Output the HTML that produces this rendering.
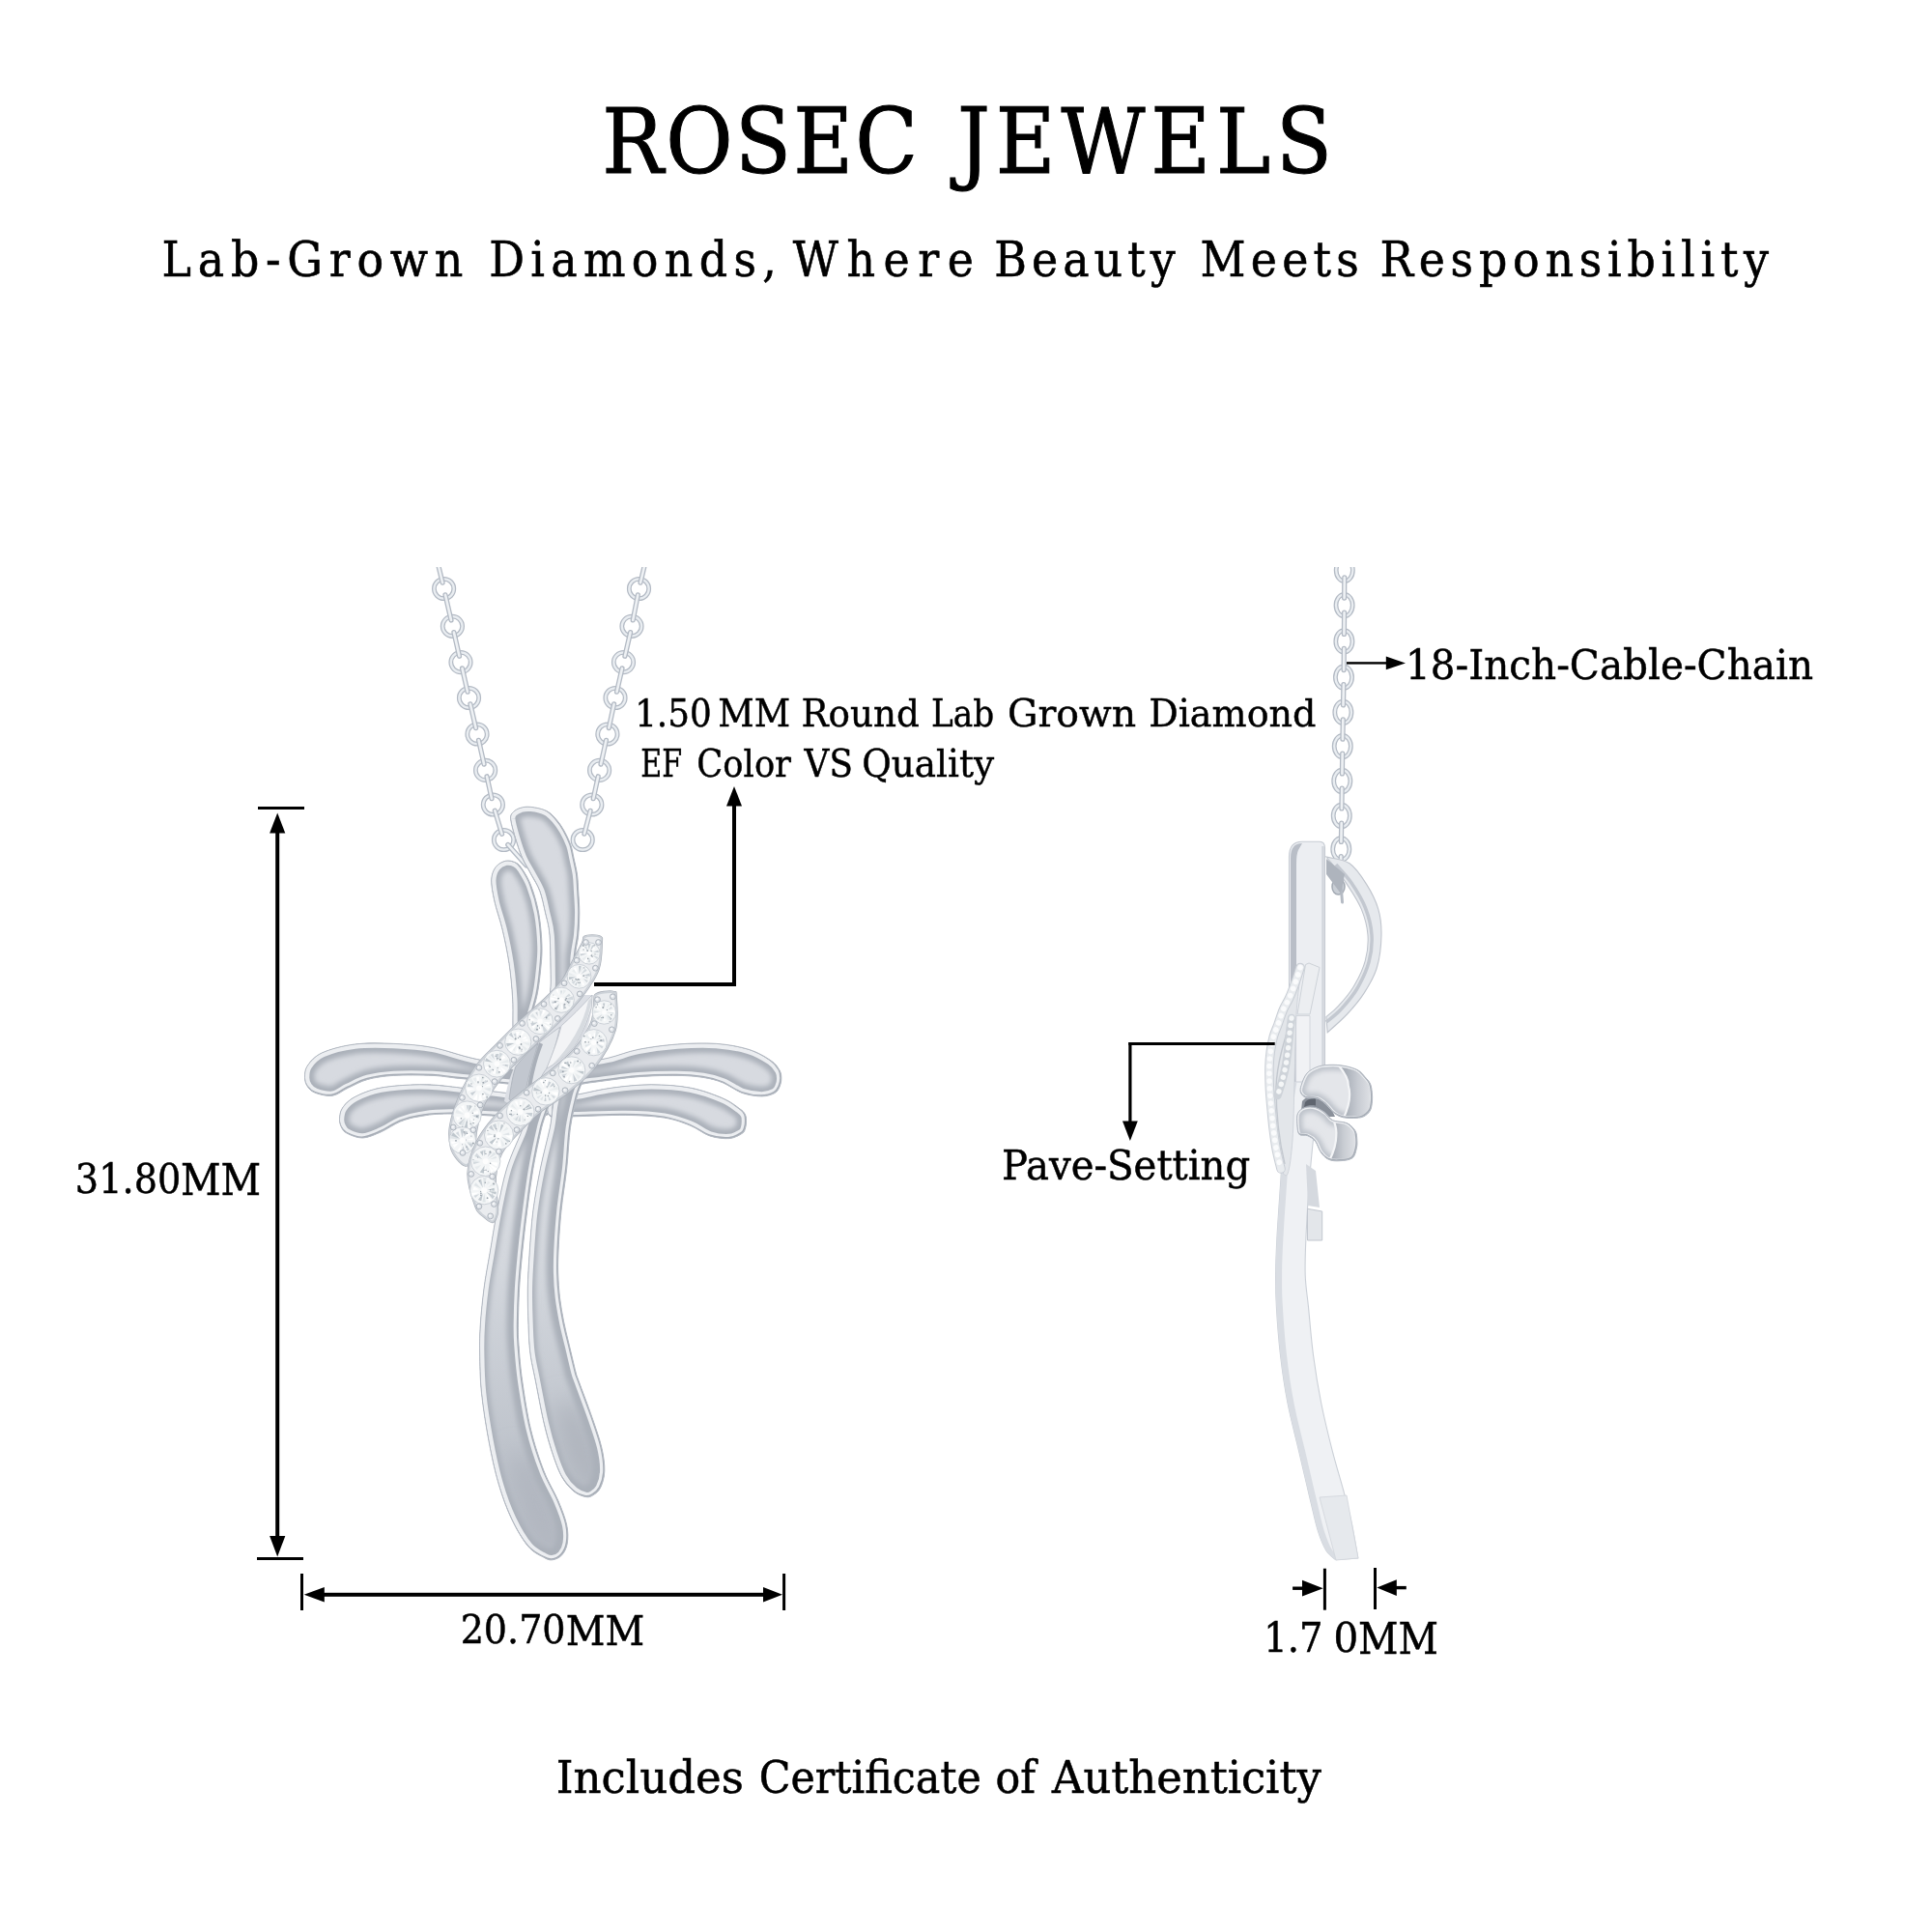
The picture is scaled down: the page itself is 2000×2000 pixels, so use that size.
<!DOCTYPE html>
<html lang="en"><head><meta charset="utf-8"><title>Rosec Jewels - Cross Pendant Specifications</title>
<style>
html,body{margin:0;padding:0;background:#fff;}
body{width:2000px;height:2000px;overflow:hidden;position:relative;}
svg{position:absolute;left:0;top:0;display:block;}
text{font-family:"DejaVu Serif Condensed", "DejaVu Serif", "Liberation Serif", serif;font-stretch:condensed;fill:#000;}
</style></head><body>
<svg width="2000" height="2000" viewBox="0 0 2000 2000">
<rect width="2000" height="2000" fill="#fff"/>
<!--JEWEL-->
<defs><filter id="b1" x="-20%" y="-20%" width="140%" height="140%"><feGaussianBlur stdDeviation="1"/></filter><filter id="b2" x="-20%" y="-20%" width="140%" height="140%"><feGaussianBlur stdDeviation="2"/></filter><filter id="b25" x="-20%" y="-20%" width="140%" height="140%"><feGaussianBlur stdDeviation="2.5"/></filter><filter id="b3" x="-20%" y="-20%" width="140%" height="140%"><feGaussianBlur stdDeviation="3"/></filter><filter id="b05" x="-20%" y="-20%" width="140%" height="140%"><feGaussianBlur stdDeviation="0.6"/></filter><filter id="b9" filterUnits="userSpaceOnUse" x="380" y="1100" width="360" height="620"><feGaussianBlur stdDeviation="12"/></filter><linearGradient id="gLow" gradientUnits="userSpaceOnUse" x1="0" y1="1150" x2="0" y2="1615"><stop offset="0" stop-color="#dcdfe4"/><stop offset="0.35" stop-color="#d3d7dd"/><stop offset="0.75" stop-color="#bfc4cc"/><stop offset="1" stop-color="#b9bec7"/></linearGradient><linearGradient id="gWallU" gradientUnits="userSpaceOnUse" x1="1392" y1="0" x2="1421" y2="0"><stop offset="0" stop-color="#a7adb6"/><stop offset="0.45" stop-color="#c6cad1"/><stop offset="1" stop-color="#e2e4e8"/></linearGradient><linearGradient id="gWallL" gradientUnits="userSpaceOnUse" x1="1380" y1="0" x2="1405" y2="0"><stop offset="0" stop-color="#abb0b9"/><stop offset="0.45" stop-color="#c9cdd3"/><stop offset="1" stop-color="#e2e4e8"/></linearGradient><filter id="b6" x="-50%" y="-50%" width="200%" height="200%"><feGaussianBlur stdDeviation="6"/></filter><clipPath id="cropTop"><rect x="0" y="587" width="2000" height="1413"/></clipPath><clipPath id="c_armUL"><path d="M560.0,1108.0C549.0,1103.4 512.5,1100.4 493.8,1096.5C475.1,1092.6 462.4,1087.1 448.0,1084.4C433.6,1081.7 421.1,1081.0 407.7,1080.4C394.2,1079.8 379.6,1079.4 367.3,1081.0C355.0,1082.6 341.7,1086.1 333.6,1089.8C325.5,1093.5 321.5,1098.7 318.5,1103.0C315.5,1107.3 315.5,1111.7 315.5,1115.4C315.5,1119.1 316.6,1122.3 318.5,1125.0C320.4,1127.7 322.6,1130.0 326.9,1131.5C331.2,1133.0 338.8,1135.1 344.4,1134.2C350.0,1133.3 354.5,1128.9 360.6,1126.1C366.7,1123.3 373.0,1119.5 380.8,1117.4C388.6,1115.3 396.5,1114.1 407.7,1113.4C418.9,1112.7 436.1,1112.9 448.0,1113.4C459.9,1114.0 460.3,1114.9 479.0,1116.7C497.7,1118.5 546.5,1125.5 560.0,1124.0C573.5,1122.5 571.0,1112.6 560.0,1108.0Z"/></clipPath><clipPath id="c_armLL"><path d="M560.0,1138.0C545.4,1132.9 493.2,1128.0 472.3,1125.5C451.4,1123.0 447.6,1122.7 434.6,1122.8C421.6,1122.9 405.4,1124.0 394.2,1126.1C383.0,1128.2 373.9,1132.1 367.3,1135.6C360.7,1139.1 357.1,1143.2 354.5,1147.0C351.9,1150.8 351.7,1155.1 351.5,1158.4C351.3,1161.7 352.2,1164.5 353.5,1167.0C354.8,1169.5 355.6,1171.4 359.2,1173.2C362.8,1175.0 369.6,1178.2 375.4,1178.0C381.2,1177.8 387.7,1174.7 394.2,1171.9C400.7,1169.1 407.7,1163.8 414.4,1161.1C421.1,1158.4 425.9,1157.0 434.6,1155.7C443.4,1154.4 446.0,1153.0 466.9,1153.0C487.8,1153.0 544.5,1158.5 560.0,1156.0C575.5,1153.5 574.6,1143.1 560.0,1138.0Z"/></clipPath><clipPath id="c_armUR"><path d="M590.0,1104.0C596.6,1099.4 618.0,1098.1 629.8,1095.2C641.6,1092.3 648.9,1088.8 660.8,1086.4C672.7,1084.0 687.6,1082.0 701.1,1081.0C714.6,1080.0 729.1,1079.5 741.5,1080.4C753.9,1081.3 765.8,1083.5 775.2,1086.4C784.6,1089.3 792.7,1094.3 798.0,1097.9C803.3,1101.5 805.2,1104.9 807.0,1108.0C808.8,1111.1 808.8,1113.9 808.8,1116.7C808.8,1119.5 808.1,1122.5 807.0,1125.0C805.9,1127.5 805.1,1129.8 802.0,1131.5C798.9,1133.2 794.2,1134.9 788.6,1134.9C783.0,1134.9 775.1,1133.8 768.4,1131.5C761.7,1129.2 754.9,1123.5 748.2,1120.8C741.5,1118.1 735.9,1116.6 728.0,1115.4C720.1,1114.2 712.3,1113.5 701.1,1113.4C689.9,1113.3 675.8,1113.5 660.8,1114.7C645.8,1115.9 622.8,1119.4 611.0,1120.8C599.2,1122.2 593.5,1125.8 590.0,1123.0C586.5,1120.2 583.4,1108.6 590.0,1104.0Z"/></clipPath><clipPath id="c_armLR"><path d="M570.0,1138.0C574.8,1134.2 588.2,1134.9 598.8,1132.9C609.4,1130.9 621.2,1127.8 633.8,1126.1C646.4,1124.4 660.7,1122.8 674.2,1122.8C687.7,1122.8 702.3,1123.8 714.6,1126.1C726.9,1128.4 739.7,1133.3 748.2,1136.9C756.7,1140.5 761.8,1144.9 765.7,1147.7C769.6,1150.5 770.4,1151.8 771.5,1154.0C772.6,1156.2 772.5,1158.8 772.5,1161.1C772.5,1163.4 772.2,1166.0 771.5,1168.0C770.8,1170.0 771.1,1171.4 768.4,1173.2C765.6,1175.0 760.6,1178.1 755.0,1178.6C749.4,1179.0 741.5,1178.1 734.8,1175.9C728.1,1173.7 722.5,1168.3 714.6,1165.2C706.8,1162.1 698.9,1158.9 687.7,1157.1C676.5,1155.3 662.5,1154.6 647.3,1154.4C632.0,1154.2 609.1,1155.4 596.2,1155.7C583.3,1156.0 574.4,1159.0 570.0,1156.0C565.6,1153.0 565.2,1141.8 570.0,1138.0Z"/></clipPath><clipPath id="c_ribTR"><path d="M571.0,1040.0C567.4,1035.6 570.5,1025.6 570.2,1013.6C569.9,1001.6 570.0,979.4 569.0,968.0C568.0,956.6 566.2,952.6 564.5,945.0C562.8,937.4 561.3,929.2 558.8,922.5C556.3,915.8 552.7,910.7 549.7,905.0C546.7,899.3 543.4,894.8 540.6,888.3C537.8,881.8 535.0,872.8 533.0,866.0C531.0,859.2 528.9,851.5 528.6,847.3C528.4,843.0 529.8,842.3 531.5,840.5C533.2,838.7 536.0,837.1 539.0,836.3C542.0,835.4 545.2,834.9 549.7,835.4C554.2,835.9 561.3,837.2 565.7,839.4C570.1,841.6 573.0,845.1 576.0,848.5C579.0,851.9 581.4,855.5 583.9,859.9C586.4,864.3 589.1,870.0 590.8,874.7C592.5,879.4 592.9,883.2 594.0,888.3C595.1,893.4 596.7,899.7 597.5,905.4C598.3,911.1 598.3,915.9 598.7,922.5C599.1,929.1 599.8,937.4 599.8,945.0C599.8,952.6 599.5,960.4 598.7,968.0C598.0,975.6 596.4,978.8 595.3,990.8C594.2,1002.8 596.0,1031.8 592.0,1040.0C588.0,1048.2 574.6,1044.4 571.0,1040.0Z"/></clipPath><clipPath id="c_ribTL"><path d="M532.0,1075.0C530.0,1067.8 531.5,1047.5 530.7,1034.5C529.9,1021.5 528.8,1009.3 527.0,997.3C525.2,985.3 522.6,973.0 520.1,962.4C517.6,951.8 514.0,942.5 512.1,933.9C510.2,925.3 508.5,917.1 508.7,911.0C508.9,904.9 510.8,900.7 513.3,897.4C515.8,894.1 520.1,892.0 523.5,891.2C526.9,890.5 530.9,891.5 533.8,892.9C536.6,894.3 538.0,895.7 540.6,899.7C543.2,903.7 546.9,909.2 549.7,916.8C552.6,924.4 555.8,934.8 557.7,945.3C559.6,955.8 560.7,969.5 561.0,979.5C561.3,989.5 560.3,996.6 559.5,1005.0C558.7,1013.4 557.6,1022.2 556.0,1030.0C554.4,1037.8 552.2,1044.0 550.0,1052.0C547.8,1060.0 546.0,1074.2 543.0,1078.0C540.0,1081.8 534.0,1082.2 532.0,1075.0Z"/></clipPath><clipPath id="c_ribLL"><path d="M548.0,1150.0C543.2,1155.4 543.4,1162.5 539.5,1172.4C535.6,1182.4 528.7,1196.2 524.6,1209.7C520.5,1223.2 517.6,1238.7 514.7,1253.2C511.8,1267.7 509.5,1283.1 507.2,1296.6C504.9,1310.0 502.6,1321.5 501.0,1333.9C499.4,1346.3 498.0,1360.2 497.3,1371.2C496.6,1382.2 496.4,1388.2 496.6,1400.0C496.8,1411.8 496.9,1426.8 498.5,1442.1C500.1,1457.4 503.1,1476.3 506.0,1491.8C508.9,1507.3 512.0,1521.8 515.9,1535.3C519.8,1548.8 524.4,1561.5 529.6,1572.5C534.8,1583.5 541.4,1594.5 547.0,1601.1C552.6,1607.7 559.0,1610.0 563.1,1612.3C567.2,1614.6 568.7,1615.2 571.8,1614.8C574.9,1614.4 579.1,1612.7 581.7,1609.8C584.3,1606.9 586.5,1602.6 587.3,1597.4C588.1,1592.2 588.2,1586.0 586.7,1578.8C585.2,1571.5 581.9,1563.2 578.0,1553.9C574.1,1544.6 567.9,1535.3 563.1,1522.9C558.3,1510.5 553.1,1494.9 549.4,1479.4C545.7,1463.9 542.8,1444.2 540.7,1429.7C538.6,1415.2 537.7,1402.2 537.0,1392.4C536.3,1382.7 536.3,1381.0 536.4,1371.2C536.5,1361.5 536.9,1346.3 537.6,1333.9C538.3,1321.5 539.4,1310.0 540.7,1296.6C542.1,1283.1 543.8,1267.7 545.7,1253.2C547.6,1238.7 549.4,1224.0 551.9,1209.7C554.4,1195.4 557.9,1179.1 560.6,1167.5C563.3,1155.9 570.1,1142.9 568.0,1140.0C565.9,1137.1 552.8,1144.6 548.0,1150.0Z"/></clipPath><clipPath id="c_ribLR"><path d="M577.0,1130.0C571.2,1139.2 572.2,1154.2 569.3,1167.5C566.4,1180.8 562.3,1195.4 559.4,1209.7C556.5,1224.0 553.8,1238.7 551.9,1253.2C550.0,1267.7 549.1,1283.1 548.2,1296.6C547.3,1310.0 546.5,1321.5 546.3,1333.9C546.1,1346.3 546.6,1360.2 547.0,1371.2C547.4,1382.2 547.6,1390.2 548.8,1400.0C550.0,1409.8 552.0,1417.5 554.4,1429.7C556.8,1441.9 560.2,1460.8 563.1,1473.2C566.0,1485.6 568.7,1494.9 571.8,1504.2C574.9,1513.5 578.0,1522.4 581.7,1529.0C585.4,1535.6 590.1,1540.6 594.2,1544.0C598.4,1547.4 603.3,1549.0 606.6,1549.6C609.9,1550.2 611.5,1549.3 614.0,1547.7C616.5,1546.1 619.5,1544.3 621.5,1540.2C623.5,1536.1 625.6,1529.9 625.8,1522.9C626.0,1515.9 624.9,1507.3 622.7,1498.0C620.5,1488.7 616.7,1478.4 612.8,1467.0C608.9,1455.6 601.9,1437.5 599.1,1429.7C596.3,1421.9 597.5,1426.2 595.9,1420.0C594.3,1413.8 591.4,1401.2 589.3,1392.5C587.2,1383.8 585.1,1376.0 583.5,1367.7C581.9,1359.4 580.4,1351.1 579.4,1342.8C578.4,1334.5 577.9,1326.3 577.7,1318.0C577.5,1309.7 577.6,1303.9 578.1,1293.1C578.6,1282.3 579.6,1267.1 581.0,1253.2C582.4,1239.3 585.1,1224.0 586.7,1209.7C588.3,1195.4 588.6,1180.1 590.4,1167.5C592.2,1154.9 595.2,1143.5 597.5,1134.2C599.8,1125.0 607.4,1112.7 604.0,1112.0C600.6,1111.3 582.8,1120.8 577.0,1130.0Z"/></clipPath><clipPath id="c_bandA"><path d="M604.5,969.5C606.2,968.2 610.1,967.8 613.0,967.8C615.9,967.8 620.3,968.2 622.0,969.5C623.7,970.8 623.6,969.8 623.3,975.5C623.0,981.2 623.2,994.4 619.9,1003.7C616.6,1012.9 610.0,1022.1 603.3,1031.1C596.7,1040.0 587.6,1049.3 579.9,1057.1C572.3,1065.0 565.0,1071.2 557.4,1078.3C549.9,1085.5 541.6,1092.7 534.5,1100.0C527.4,1107.3 520.5,1114.6 514.8,1122.1C509.2,1129.7 504.2,1137.3 500.6,1145.3C497.1,1153.3 495.1,1162.7 493.7,1170.2C492.2,1177.6 492.9,1184.5 492.0,1190.0C491.1,1195.5 489.7,1200.2 488.0,1203.0C486.3,1205.8 484.5,1207.5 482.0,1207.0C479.5,1206.5 475.6,1203.2 473.0,1200.0C470.4,1196.8 467.8,1193.6 466.5,1188.0C465.2,1182.4 464.0,1175.3 465.4,1166.5C466.8,1157.7 470.4,1145.6 475.0,1135.0C479.6,1124.4 486.4,1112.0 493.1,1102.8C499.7,1093.6 507.5,1087.4 515.0,1079.7C522.5,1072.0 530.5,1063.7 538.1,1056.6C545.6,1049.4 553.2,1043.6 560.4,1036.8C567.5,1029.9 575.4,1023.0 581.0,1015.6C586.5,1008.3 590.0,999.4 593.6,992.7C597.2,986.1 600.9,979.4 602.7,975.5C604.5,971.6 602.8,970.8 604.5,969.5Z"/></clipPath><clipPath id="c_bandB"><path d="M616.0,1029.5C617.7,1028.0 621.8,1027.0 625.0,1026.5C628.2,1026.0 633.3,1025.7 635.5,1026.5C637.7,1027.3 637.9,1024.4 638.1,1031.1C638.4,1037.9 640.8,1054.6 637.0,1067.0C633.2,1079.5 623.7,1095.0 615.4,1105.8C607.1,1116.6 596.6,1124.2 587.2,1131.8C577.8,1139.4 567.5,1144.6 559.3,1151.3C551.1,1158.0 544.5,1165.0 537.9,1172.0C531.3,1179.1 524.0,1185.8 519.9,1193.5C515.8,1201.3 514.2,1209.6 513.4,1218.3C512.6,1227.1 514.9,1239.5 515.2,1245.9C515.4,1252.4 515.9,1253.7 515.0,1257.0C514.1,1260.3 512.3,1265.0 510.0,1265.5C507.7,1266.0 504.0,1262.7 501.0,1260.0C498.0,1257.3 495.0,1257.0 492.1,1249.5C489.3,1242.0 483.8,1226.3 484.0,1215.0C484.2,1203.7 488.2,1192.2 493.3,1181.8C498.4,1171.4 506.4,1161.5 514.7,1152.6C523.0,1143.6 533.8,1135.5 543.0,1128.1C552.3,1120.6 561.5,1114.9 570.1,1107.8C578.7,1100.7 587.5,1093.9 594.5,1085.7C601.4,1077.4 608.3,1066.7 611.7,1058.4C615.1,1050.0 614.0,1040.2 614.8,1035.4C615.5,1030.6 614.3,1031.0 616.0,1029.5Z"/></clipPath><clipPath id="c_bulbU"><path d="M1347.1,1123.5C1348.2,1120.2 1350.0,1114.3 1353.0,1111.0C1356.0,1107.7 1360.7,1105.4 1365.2,1103.9C1369.7,1102.5 1375.2,1102.3 1380.0,1102.3C1384.8,1102.3 1389.9,1103.0 1394.2,1103.9C1398.5,1104.9 1402.9,1106.2 1406.0,1108.0C1409.1,1109.8 1410.9,1112.5 1413.0,1114.8C1415.1,1117.1 1417.3,1119.3 1418.5,1122.0C1419.7,1124.7 1420.0,1127.7 1420.3,1130.7C1420.6,1133.7 1420.8,1137.0 1420.5,1140.0C1420.2,1143.0 1419.8,1146.5 1418.8,1148.8C1417.8,1151.1 1416.2,1152.7 1414.5,1154.0C1412.8,1155.3 1411.3,1156.2 1408.7,1156.8C1406.1,1157.4 1402.0,1157.5 1399.0,1157.5C1396.0,1157.5 1393.0,1157.3 1390.6,1156.8C1388.2,1156.3 1386.3,1155.5 1384.5,1154.5C1382.7,1153.5 1381.7,1152.9 1379.7,1151.0C1377.7,1149.1 1375.2,1145.3 1372.5,1143.0C1369.8,1140.7 1367.2,1138.3 1363.8,1137.2C1360.4,1136.1 1355.1,1137.6 1352.2,1136.5C1349.3,1135.4 1347.2,1132.9 1346.4,1130.7C1345.6,1128.5 1346.0,1126.8 1347.1,1123.5Z"/></clipPath><clipPath id="c_bulbL"><path d="M1343.5,1152.5C1344.8,1149.7 1347.6,1147.7 1350.7,1146.7C1353.8,1145.7 1358.7,1145.7 1362.3,1146.7C1365.9,1147.7 1369.6,1150.3 1372.5,1152.5C1375.4,1154.7 1376.1,1158.0 1379.7,1159.7C1383.3,1161.4 1390.3,1160.8 1394.2,1162.6C1398.1,1164.4 1401.1,1167.7 1402.9,1170.6C1404.7,1173.5 1404.6,1177.0 1404.8,1180.0C1405.0,1183.0 1405.1,1185.6 1404.3,1188.7C1403.5,1191.8 1402.9,1196.6 1400.0,1198.8C1397.1,1201.0 1391.1,1201.5 1387.0,1201.7C1382.9,1202.0 1378.7,1201.8 1375.4,1200.3C1372.1,1198.8 1369.7,1196.2 1367.4,1193.0C1365.1,1189.8 1363.9,1184.3 1361.6,1181.4C1359.3,1178.5 1356.4,1176.9 1353.6,1175.7C1350.8,1174.5 1346.7,1176.3 1344.9,1174.2C1343.1,1172.1 1343.0,1166.9 1342.8,1163.3C1342.6,1159.7 1342.2,1155.3 1343.5,1152.5Z"/></clipPath></defs>
<g id="frontchain" clip-path="url(#cropTop)">
<ellipse cx="459.6" cy="609.5" rx="10.2" ry="10.2" fill="none" stroke="#b3bac4" stroke-width="4.8"/><ellipse cx="459.6" cy="609.5" rx="10.2" ry="10.2" fill="none" stroke="#e9edf1" stroke-width="2.3"/>
<ellipse cx="468.4" cy="648.3" rx="10.2" ry="10.2" fill="none" stroke="#b3bac4" stroke-width="4.8"/><ellipse cx="468.4" cy="648.3" rx="10.2" ry="10.2" fill="none" stroke="#e9edf1" stroke-width="2.3"/>
<ellipse cx="477.0" cy="685.6" rx="10.2" ry="10.2" fill="none" stroke="#b3bac4" stroke-width="4.8"/><ellipse cx="477.0" cy="685.6" rx="10.2" ry="10.2" fill="none" stroke="#e9edf1" stroke-width="2.3"/>
<ellipse cx="485.5" cy="722.5" rx="10.2" ry="10.2" fill="none" stroke="#b3bac4" stroke-width="4.8"/><ellipse cx="485.5" cy="722.5" rx="10.2" ry="10.2" fill="none" stroke="#e9edf1" stroke-width="2.3"/>
<ellipse cx="494.0" cy="760.0" rx="10.2" ry="10.2" fill="none" stroke="#b3bac4" stroke-width="4.8"/><ellipse cx="494.0" cy="760.0" rx="10.2" ry="10.2" fill="none" stroke="#e9edf1" stroke-width="2.3"/>
<ellipse cx="502.6" cy="797.4" rx="10.2" ry="10.2" fill="none" stroke="#b3bac4" stroke-width="4.8"/><ellipse cx="502.6" cy="797.4" rx="10.2" ry="10.2" fill="none" stroke="#e9edf1" stroke-width="2.3"/>
<ellipse cx="510.4" cy="833.0" rx="10.2" ry="10.2" fill="none" stroke="#b3bac4" stroke-width="4.8"/><ellipse cx="510.4" cy="833.0" rx="10.2" ry="10.2" fill="none" stroke="#e9edf1" stroke-width="2.3"/>
<ellipse cx="521.5" cy="869.5" rx="10.2" ry="10.2" fill="none" stroke="#b3bac4" stroke-width="4.8"/><ellipse cx="521.5" cy="869.5" rx="10.2" ry="10.2" fill="none" stroke="#e9edf1" stroke-width="2.3"/>
<line x1="461.0" y1="615.8" x2="467.0" y2="642.0" stroke="#b3bac4" stroke-width="5.2" stroke-linecap="round"/><line x1="461.0" y1="615.8" x2="467.0" y2="642.0" stroke="#eef1f4" stroke-width="2.6" stroke-linecap="round"/>
<line x1="469.9" y1="654.6" x2="475.5" y2="679.3" stroke="#b3bac4" stroke-width="5.2" stroke-linecap="round"/><line x1="469.9" y1="654.6" x2="475.5" y2="679.3" stroke="#eef1f4" stroke-width="2.6" stroke-linecap="round"/>
<line x1="478.5" y1="691.9" x2="484.0" y2="716.2" stroke="#b3bac4" stroke-width="5.2" stroke-linecap="round"/><line x1="478.5" y1="691.9" x2="484.0" y2="716.2" stroke="#eef1f4" stroke-width="2.6" stroke-linecap="round"/>
<line x1="486.9" y1="728.8" x2="492.6" y2="753.7" stroke="#b3bac4" stroke-width="5.2" stroke-linecap="round"/><line x1="486.9" y1="728.8" x2="492.6" y2="753.7" stroke="#eef1f4" stroke-width="2.6" stroke-linecap="round"/>
<line x1="495.5" y1="766.3" x2="501.1" y2="791.1" stroke="#b3bac4" stroke-width="5.2" stroke-linecap="round"/><line x1="495.5" y1="766.3" x2="501.1" y2="791.1" stroke="#eef1f4" stroke-width="2.6" stroke-linecap="round"/>
<line x1="504.0" y1="803.7" x2="509.0" y2="826.7" stroke="#b3bac4" stroke-width="5.2" stroke-linecap="round"/><line x1="504.0" y1="803.7" x2="509.0" y2="826.7" stroke="#eef1f4" stroke-width="2.6" stroke-linecap="round"/>
<line x1="512.3" y1="839.2" x2="519.6" y2="863.3" stroke="#b3bac4" stroke-width="5.2" stroke-linecap="round"/><line x1="512.3" y1="839.2" x2="519.6" y2="863.3" stroke="#eef1f4" stroke-width="2.6" stroke-linecap="round"/>
<line x1="452.0" y1="578.0" x2="458.1" y2="603.2" stroke="#b3bac4" stroke-width="5.2" stroke-linecap="round"/><line x1="452.0" y1="578.0" x2="458.1" y2="603.2" stroke="#eef1f4" stroke-width="2.6" stroke-linecap="round"/>
<line x1="525.8" y1="874.4" x2="545.0" y2="896.0" stroke="#b3bac4" stroke-width="5.2" stroke-linecap="round"/><line x1="525.8" y1="874.4" x2="545.0" y2="896.0" stroke="#eef1f4" stroke-width="2.6" stroke-linecap="round"/>
<ellipse cx="661.5" cy="609.5" rx="10.2" ry="10.2" fill="none" stroke="#b3bac4" stroke-width="4.8"/><ellipse cx="661.5" cy="609.5" rx="10.2" ry="10.2" fill="none" stroke="#e9edf1" stroke-width="2.3"/>
<ellipse cx="654.0" cy="648.3" rx="10.2" ry="10.2" fill="none" stroke="#b3bac4" stroke-width="4.8"/><ellipse cx="654.0" cy="648.3" rx="10.2" ry="10.2" fill="none" stroke="#e9edf1" stroke-width="2.3"/>
<ellipse cx="645.5" cy="685.6" rx="10.2" ry="10.2" fill="none" stroke="#b3bac4" stroke-width="4.8"/><ellipse cx="645.5" cy="685.6" rx="10.2" ry="10.2" fill="none" stroke="#e9edf1" stroke-width="2.3"/>
<ellipse cx="637.0" cy="722.5" rx="10.2" ry="10.2" fill="none" stroke="#b3bac4" stroke-width="4.8"/><ellipse cx="637.0" cy="722.5" rx="10.2" ry="10.2" fill="none" stroke="#e9edf1" stroke-width="2.3"/>
<ellipse cx="628.9" cy="760.0" rx="10.2" ry="10.2" fill="none" stroke="#b3bac4" stroke-width="4.8"/><ellipse cx="628.9" cy="760.0" rx="10.2" ry="10.2" fill="none" stroke="#e9edf1" stroke-width="2.3"/>
<ellipse cx="620.6" cy="797.4" rx="10.2" ry="10.2" fill="none" stroke="#b3bac4" stroke-width="4.8"/><ellipse cx="620.6" cy="797.4" rx="10.2" ry="10.2" fill="none" stroke="#e9edf1" stroke-width="2.3"/>
<ellipse cx="612.8" cy="833.0" rx="10.2" ry="10.2" fill="none" stroke="#b3bac4" stroke-width="4.8"/><ellipse cx="612.8" cy="833.0" rx="10.2" ry="10.2" fill="none" stroke="#e9edf1" stroke-width="2.3"/>
<ellipse cx="603.2" cy="869.5" rx="10.2" ry="10.2" fill="none" stroke="#b3bac4" stroke-width="4.8"/><ellipse cx="603.2" cy="869.5" rx="10.2" ry="10.2" fill="none" stroke="#e9edf1" stroke-width="2.3"/>
<line x1="660.3" y1="615.9" x2="655.2" y2="641.9" stroke="#b3bac4" stroke-width="5.2" stroke-linecap="round"/><line x1="660.3" y1="615.9" x2="655.2" y2="641.9" stroke="#eef1f4" stroke-width="2.6" stroke-linecap="round"/>
<line x1="652.6" y1="654.6" x2="646.9" y2="679.3" stroke="#b3bac4" stroke-width="5.2" stroke-linecap="round"/><line x1="652.6" y1="654.6" x2="646.9" y2="679.3" stroke="#eef1f4" stroke-width="2.6" stroke-linecap="round"/>
<line x1="644.0" y1="691.9" x2="638.5" y2="716.2" stroke="#b3bac4" stroke-width="5.2" stroke-linecap="round"/><line x1="644.0" y1="691.9" x2="638.5" y2="716.2" stroke="#eef1f4" stroke-width="2.6" stroke-linecap="round"/>
<line x1="635.6" y1="728.9" x2="630.3" y2="753.6" stroke="#b3bac4" stroke-width="5.2" stroke-linecap="round"/><line x1="635.6" y1="728.9" x2="630.3" y2="753.6" stroke="#eef1f4" stroke-width="2.6" stroke-linecap="round"/>
<line x1="627.5" y1="766.3" x2="622.0" y2="791.1" stroke="#b3bac4" stroke-width="5.2" stroke-linecap="round"/><line x1="627.5" y1="766.3" x2="622.0" y2="791.1" stroke="#eef1f4" stroke-width="2.6" stroke-linecap="round"/>
<line x1="619.2" y1="803.7" x2="614.2" y2="826.7" stroke="#b3bac4" stroke-width="5.2" stroke-linecap="round"/><line x1="619.2" y1="803.7" x2="614.2" y2="826.7" stroke="#eef1f4" stroke-width="2.6" stroke-linecap="round"/>
<line x1="611.1" y1="839.3" x2="604.9" y2="863.2" stroke="#b3bac4" stroke-width="5.2" stroke-linecap="round"/><line x1="611.1" y1="839.3" x2="604.9" y2="863.2" stroke="#eef1f4" stroke-width="2.6" stroke-linecap="round"/>
<line x1="669.0" y1="578.0" x2="663.0" y2="603.2" stroke="#b3bac4" stroke-width="5.2" stroke-linecap="round"/><line x1="669.0" y1="578.0" x2="663.0" y2="603.2" stroke="#eef1f4" stroke-width="2.6" stroke-linecap="round"/>
</g>
<g id="armUL">
<path d="M560.0,1108.0C549.0,1103.4 512.5,1100.4 493.8,1096.5C475.1,1092.6 462.4,1087.1 448.0,1084.4C433.6,1081.7 421.1,1081.0 407.7,1080.4C394.2,1079.8 379.6,1079.4 367.3,1081.0C355.0,1082.6 341.7,1086.1 333.6,1089.8C325.5,1093.5 321.5,1098.7 318.5,1103.0C315.5,1107.3 315.5,1111.7 315.5,1115.4C315.5,1119.1 316.6,1122.3 318.5,1125.0C320.4,1127.7 322.6,1130.0 326.9,1131.5C331.2,1133.0 338.8,1135.1 344.4,1134.2C350.0,1133.3 354.5,1128.9 360.6,1126.1C366.7,1123.3 373.0,1119.5 380.8,1117.4C388.6,1115.3 396.5,1114.1 407.7,1113.4C418.9,1112.7 436.1,1112.9 448.0,1113.4C459.9,1114.0 460.3,1114.9 479.0,1116.7C497.7,1118.5 546.5,1125.5 560.0,1124.0C573.5,1122.5 571.0,1112.6 560.0,1108.0Z" fill="#d7dae0"/>
<g clip-path="url(#c_armUL)">
<path d="M560.0,1108.0C549.0,1103.4 512.5,1100.4 493.8,1096.5C475.1,1092.6 462.4,1087.1 448.0,1084.4C433.6,1081.7 421.1,1081.0 407.7,1080.4C394.2,1079.8 379.6,1079.4 367.3,1081.0C355.0,1082.6 341.7,1086.1 333.6,1089.8C325.5,1093.5 321.5,1098.7 318.5,1103.0C315.5,1107.3 315.5,1111.7 315.5,1115.4C315.5,1119.1 316.6,1122.3 318.5,1125.0C320.4,1127.7 322.6,1130.0 326.9,1131.5C331.2,1133.0 338.8,1135.1 344.4,1134.2C350.0,1133.3 354.5,1128.9 360.6,1126.1C366.7,1123.3 373.0,1119.5 380.8,1117.4C388.6,1115.3 396.5,1114.1 407.7,1113.4C418.9,1112.7 436.1,1112.9 448.0,1113.4C459.9,1114.0 460.3,1114.9 479.0,1116.7C497.7,1118.5 546.5,1125.5 560.0,1124.0C573.5,1122.5 571.0,1112.6 560.0,1108.0Z" fill="none" stroke="#aab0b9" stroke-width="20" filter="url(#b25)" transform="translate(0,0)"/>

<path d="M560.0,1108.0C549.0,1103.4 512.5,1100.4 493.8,1096.5C475.1,1092.6 462.4,1087.1 448.0,1084.4C433.6,1081.7 421.1,1081.0 407.7,1080.4C394.2,1079.8 379.6,1079.4 367.3,1081.0C355.0,1082.6 341.7,1086.1 333.6,1089.8C325.5,1093.5 321.5,1098.7 318.5,1103.0C315.5,1107.3 315.5,1111.7 315.5,1115.4C315.5,1119.1 316.6,1122.3 318.5,1125.0C320.4,1127.7 322.6,1130.0 326.9,1131.5C331.2,1133.0 338.8,1135.1 344.4,1134.2C350.0,1133.3 354.5,1128.9 360.6,1126.1C366.7,1123.3 373.0,1119.5 380.8,1117.4C388.6,1115.3 396.5,1114.1 407.7,1113.4C418.9,1112.7 436.1,1112.9 448.0,1113.4C459.9,1114.0 460.3,1114.9 479.0,1116.7C497.7,1118.5 546.5,1125.5 560.0,1124.0C573.5,1122.5 571.0,1112.6 560.0,1108.0Z" fill="none" stroke="#eceef1" stroke-width="9.5" filter="url(#b05)"/>
<path d="M560.0,1108.0C549.0,1103.4 512.5,1100.4 493.8,1096.5C475.1,1092.6 462.4,1087.1 448.0,1084.4C433.6,1081.7 421.1,1081.0 407.7,1080.4C394.2,1079.8 379.6,1079.4 367.3,1081.0C355.0,1082.6 341.7,1086.1 333.6,1089.8C325.5,1093.5 321.5,1098.7 318.5,1103.0C315.5,1107.3 315.5,1111.7 315.5,1115.4C315.5,1119.1 316.6,1122.3 318.5,1125.0C320.4,1127.7 322.6,1130.0 326.9,1131.5C331.2,1133.0 338.8,1135.1 344.4,1134.2C350.0,1133.3 354.5,1128.9 360.6,1126.1C366.7,1123.3 373.0,1119.5 380.8,1117.4C388.6,1115.3 396.5,1114.1 407.7,1113.4C418.9,1112.7 436.1,1112.9 448.0,1113.4C459.9,1114.0 460.3,1114.9 479.0,1116.7C497.7,1118.5 546.5,1125.5 560.0,1124.0C573.5,1122.5 571.0,1112.6 560.0,1108.0Z" fill="none" stroke="#a6acb5" stroke-width="1.8" transform="translate(-0.7,-0.7)"/>
</g>
<path d="M560.0,1108.0C549.0,1103.4 512.5,1100.4 493.8,1096.5C475.1,1092.6 462.4,1087.1 448.0,1084.4C433.6,1081.7 421.1,1081.0 407.7,1080.4C394.2,1079.8 379.6,1079.4 367.3,1081.0C355.0,1082.6 341.7,1086.1 333.6,1089.8C325.5,1093.5 321.5,1098.7 318.5,1103.0C315.5,1107.3 315.5,1111.7 315.5,1115.4C315.5,1119.1 316.6,1122.3 318.5,1125.0C320.4,1127.7 322.6,1130.0 326.9,1131.5C331.2,1133.0 338.8,1135.1 344.4,1134.2C350.0,1133.3 354.5,1128.9 360.6,1126.1C366.7,1123.3 373.0,1119.5 380.8,1117.4C388.6,1115.3 396.5,1114.1 407.7,1113.4C418.9,1112.7 436.1,1112.9 448.0,1113.4C459.9,1114.0 460.3,1114.9 479.0,1116.7C497.7,1118.5 546.5,1125.5 560.0,1124.0C573.5,1122.5 571.0,1112.6 560.0,1108.0Z" fill="none" stroke="#b4bac3" stroke-width="1"/>
</g>
<g id="armLL">
<path d="M560.0,1138.0C545.4,1132.9 493.2,1128.0 472.3,1125.5C451.4,1123.0 447.6,1122.7 434.6,1122.8C421.6,1122.9 405.4,1124.0 394.2,1126.1C383.0,1128.2 373.9,1132.1 367.3,1135.6C360.7,1139.1 357.1,1143.2 354.5,1147.0C351.9,1150.8 351.7,1155.1 351.5,1158.4C351.3,1161.7 352.2,1164.5 353.5,1167.0C354.8,1169.5 355.6,1171.4 359.2,1173.2C362.8,1175.0 369.6,1178.2 375.4,1178.0C381.2,1177.8 387.7,1174.7 394.2,1171.9C400.7,1169.1 407.7,1163.8 414.4,1161.1C421.1,1158.4 425.9,1157.0 434.6,1155.7C443.4,1154.4 446.0,1153.0 466.9,1153.0C487.8,1153.0 544.5,1158.5 560.0,1156.0C575.5,1153.5 574.6,1143.1 560.0,1138.0Z" fill="#d7dae0"/>
<g clip-path="url(#c_armLL)">
<path d="M560.0,1138.0C545.4,1132.9 493.2,1128.0 472.3,1125.5C451.4,1123.0 447.6,1122.7 434.6,1122.8C421.6,1122.9 405.4,1124.0 394.2,1126.1C383.0,1128.2 373.9,1132.1 367.3,1135.6C360.7,1139.1 357.1,1143.2 354.5,1147.0C351.9,1150.8 351.7,1155.1 351.5,1158.4C351.3,1161.7 352.2,1164.5 353.5,1167.0C354.8,1169.5 355.6,1171.4 359.2,1173.2C362.8,1175.0 369.6,1178.2 375.4,1178.0C381.2,1177.8 387.7,1174.7 394.2,1171.9C400.7,1169.1 407.7,1163.8 414.4,1161.1C421.1,1158.4 425.9,1157.0 434.6,1155.7C443.4,1154.4 446.0,1153.0 466.9,1153.0C487.8,1153.0 544.5,1158.5 560.0,1156.0C575.5,1153.5 574.6,1143.1 560.0,1138.0Z" fill="none" stroke="#aab0b9" stroke-width="20" filter="url(#b25)" transform="translate(0,0)"/>

<path d="M560.0,1138.0C545.4,1132.9 493.2,1128.0 472.3,1125.5C451.4,1123.0 447.6,1122.7 434.6,1122.8C421.6,1122.9 405.4,1124.0 394.2,1126.1C383.0,1128.2 373.9,1132.1 367.3,1135.6C360.7,1139.1 357.1,1143.2 354.5,1147.0C351.9,1150.8 351.7,1155.1 351.5,1158.4C351.3,1161.7 352.2,1164.5 353.5,1167.0C354.8,1169.5 355.6,1171.4 359.2,1173.2C362.8,1175.0 369.6,1178.2 375.4,1178.0C381.2,1177.8 387.7,1174.7 394.2,1171.9C400.7,1169.1 407.7,1163.8 414.4,1161.1C421.1,1158.4 425.9,1157.0 434.6,1155.7C443.4,1154.4 446.0,1153.0 466.9,1153.0C487.8,1153.0 544.5,1158.5 560.0,1156.0C575.5,1153.5 574.6,1143.1 560.0,1138.0Z" fill="none" stroke="#eceef1" stroke-width="9.5" filter="url(#b05)"/>
<path d="M560.0,1138.0C545.4,1132.9 493.2,1128.0 472.3,1125.5C451.4,1123.0 447.6,1122.7 434.6,1122.8C421.6,1122.9 405.4,1124.0 394.2,1126.1C383.0,1128.2 373.9,1132.1 367.3,1135.6C360.7,1139.1 357.1,1143.2 354.5,1147.0C351.9,1150.8 351.7,1155.1 351.5,1158.4C351.3,1161.7 352.2,1164.5 353.5,1167.0C354.8,1169.5 355.6,1171.4 359.2,1173.2C362.8,1175.0 369.6,1178.2 375.4,1178.0C381.2,1177.8 387.7,1174.7 394.2,1171.9C400.7,1169.1 407.7,1163.8 414.4,1161.1C421.1,1158.4 425.9,1157.0 434.6,1155.7C443.4,1154.4 446.0,1153.0 466.9,1153.0C487.8,1153.0 544.5,1158.5 560.0,1156.0C575.5,1153.5 574.6,1143.1 560.0,1138.0Z" fill="none" stroke="#a6acb5" stroke-width="1.8" transform="translate(-0.7,-0.7)"/>
</g>
<path d="M560.0,1138.0C545.4,1132.9 493.2,1128.0 472.3,1125.5C451.4,1123.0 447.6,1122.7 434.6,1122.8C421.6,1122.9 405.4,1124.0 394.2,1126.1C383.0,1128.2 373.9,1132.1 367.3,1135.6C360.7,1139.1 357.1,1143.2 354.5,1147.0C351.9,1150.8 351.7,1155.1 351.5,1158.4C351.3,1161.7 352.2,1164.5 353.5,1167.0C354.8,1169.5 355.6,1171.4 359.2,1173.2C362.8,1175.0 369.6,1178.2 375.4,1178.0C381.2,1177.8 387.7,1174.7 394.2,1171.9C400.7,1169.1 407.7,1163.8 414.4,1161.1C421.1,1158.4 425.9,1157.0 434.6,1155.7C443.4,1154.4 446.0,1153.0 466.9,1153.0C487.8,1153.0 544.5,1158.5 560.0,1156.0C575.5,1153.5 574.6,1143.1 560.0,1138.0Z" fill="none" stroke="#b4bac3" stroke-width="1"/>
</g>
<g id="armUR">
<path d="M590.0,1104.0C596.6,1099.4 618.0,1098.1 629.8,1095.2C641.6,1092.3 648.9,1088.8 660.8,1086.4C672.7,1084.0 687.6,1082.0 701.1,1081.0C714.6,1080.0 729.1,1079.5 741.5,1080.4C753.9,1081.3 765.8,1083.5 775.2,1086.4C784.6,1089.3 792.7,1094.3 798.0,1097.9C803.3,1101.5 805.2,1104.9 807.0,1108.0C808.8,1111.1 808.8,1113.9 808.8,1116.7C808.8,1119.5 808.1,1122.5 807.0,1125.0C805.9,1127.5 805.1,1129.8 802.0,1131.5C798.9,1133.2 794.2,1134.9 788.6,1134.9C783.0,1134.9 775.1,1133.8 768.4,1131.5C761.7,1129.2 754.9,1123.5 748.2,1120.8C741.5,1118.1 735.9,1116.6 728.0,1115.4C720.1,1114.2 712.3,1113.5 701.1,1113.4C689.9,1113.3 675.8,1113.5 660.8,1114.7C645.8,1115.9 622.8,1119.4 611.0,1120.8C599.2,1122.2 593.5,1125.8 590.0,1123.0C586.5,1120.2 583.4,1108.6 590.0,1104.0Z" fill="#d7dae0"/>
<g clip-path="url(#c_armUR)">
<path d="M590.0,1104.0C596.6,1099.4 618.0,1098.1 629.8,1095.2C641.6,1092.3 648.9,1088.8 660.8,1086.4C672.7,1084.0 687.6,1082.0 701.1,1081.0C714.6,1080.0 729.1,1079.5 741.5,1080.4C753.9,1081.3 765.8,1083.5 775.2,1086.4C784.6,1089.3 792.7,1094.3 798.0,1097.9C803.3,1101.5 805.2,1104.9 807.0,1108.0C808.8,1111.1 808.8,1113.9 808.8,1116.7C808.8,1119.5 808.1,1122.5 807.0,1125.0C805.9,1127.5 805.1,1129.8 802.0,1131.5C798.9,1133.2 794.2,1134.9 788.6,1134.9C783.0,1134.9 775.1,1133.8 768.4,1131.5C761.7,1129.2 754.9,1123.5 748.2,1120.8C741.5,1118.1 735.9,1116.6 728.0,1115.4C720.1,1114.2 712.3,1113.5 701.1,1113.4C689.9,1113.3 675.8,1113.5 660.8,1114.7C645.8,1115.9 622.8,1119.4 611.0,1120.8C599.2,1122.2 593.5,1125.8 590.0,1123.0C586.5,1120.2 583.4,1108.6 590.0,1104.0Z" fill="none" stroke="#aab0b9" stroke-width="20" filter="url(#b25)" transform="translate(0,0)"/>

<path d="M590.0,1104.0C596.6,1099.4 618.0,1098.1 629.8,1095.2C641.6,1092.3 648.9,1088.8 660.8,1086.4C672.7,1084.0 687.6,1082.0 701.1,1081.0C714.6,1080.0 729.1,1079.5 741.5,1080.4C753.9,1081.3 765.8,1083.5 775.2,1086.4C784.6,1089.3 792.7,1094.3 798.0,1097.9C803.3,1101.5 805.2,1104.9 807.0,1108.0C808.8,1111.1 808.8,1113.9 808.8,1116.7C808.8,1119.5 808.1,1122.5 807.0,1125.0C805.9,1127.5 805.1,1129.8 802.0,1131.5C798.9,1133.2 794.2,1134.9 788.6,1134.9C783.0,1134.9 775.1,1133.8 768.4,1131.5C761.7,1129.2 754.9,1123.5 748.2,1120.8C741.5,1118.1 735.9,1116.6 728.0,1115.4C720.1,1114.2 712.3,1113.5 701.1,1113.4C689.9,1113.3 675.8,1113.5 660.8,1114.7C645.8,1115.9 622.8,1119.4 611.0,1120.8C599.2,1122.2 593.5,1125.8 590.0,1123.0C586.5,1120.2 583.4,1108.6 590.0,1104.0Z" fill="none" stroke="#eceef1" stroke-width="9.5" filter="url(#b05)"/>
<path d="M590.0,1104.0C596.6,1099.4 618.0,1098.1 629.8,1095.2C641.6,1092.3 648.9,1088.8 660.8,1086.4C672.7,1084.0 687.6,1082.0 701.1,1081.0C714.6,1080.0 729.1,1079.5 741.5,1080.4C753.9,1081.3 765.8,1083.5 775.2,1086.4C784.6,1089.3 792.7,1094.3 798.0,1097.9C803.3,1101.5 805.2,1104.9 807.0,1108.0C808.8,1111.1 808.8,1113.9 808.8,1116.7C808.8,1119.5 808.1,1122.5 807.0,1125.0C805.9,1127.5 805.1,1129.8 802.0,1131.5C798.9,1133.2 794.2,1134.9 788.6,1134.9C783.0,1134.9 775.1,1133.8 768.4,1131.5C761.7,1129.2 754.9,1123.5 748.2,1120.8C741.5,1118.1 735.9,1116.6 728.0,1115.4C720.1,1114.2 712.3,1113.5 701.1,1113.4C689.9,1113.3 675.8,1113.5 660.8,1114.7C645.8,1115.9 622.8,1119.4 611.0,1120.8C599.2,1122.2 593.5,1125.8 590.0,1123.0C586.5,1120.2 583.4,1108.6 590.0,1104.0Z" fill="none" stroke="#a6acb5" stroke-width="1.8" transform="translate(-0.7,-0.7)"/>
</g>
<path d="M590.0,1104.0C596.6,1099.4 618.0,1098.1 629.8,1095.2C641.6,1092.3 648.9,1088.8 660.8,1086.4C672.7,1084.0 687.6,1082.0 701.1,1081.0C714.6,1080.0 729.1,1079.5 741.5,1080.4C753.9,1081.3 765.8,1083.5 775.2,1086.4C784.6,1089.3 792.7,1094.3 798.0,1097.9C803.3,1101.5 805.2,1104.9 807.0,1108.0C808.8,1111.1 808.8,1113.9 808.8,1116.7C808.8,1119.5 808.1,1122.5 807.0,1125.0C805.9,1127.5 805.1,1129.8 802.0,1131.5C798.9,1133.2 794.2,1134.9 788.6,1134.9C783.0,1134.9 775.1,1133.8 768.4,1131.5C761.7,1129.2 754.9,1123.5 748.2,1120.8C741.5,1118.1 735.9,1116.6 728.0,1115.4C720.1,1114.2 712.3,1113.5 701.1,1113.4C689.9,1113.3 675.8,1113.5 660.8,1114.7C645.8,1115.9 622.8,1119.4 611.0,1120.8C599.2,1122.2 593.5,1125.8 590.0,1123.0C586.5,1120.2 583.4,1108.6 590.0,1104.0Z" fill="none" stroke="#b4bac3" stroke-width="1"/>
</g>
<g id="armLR">
<path d="M570.0,1138.0C574.8,1134.2 588.2,1134.9 598.8,1132.9C609.4,1130.9 621.2,1127.8 633.8,1126.1C646.4,1124.4 660.7,1122.8 674.2,1122.8C687.7,1122.8 702.3,1123.8 714.6,1126.1C726.9,1128.4 739.7,1133.3 748.2,1136.9C756.7,1140.5 761.8,1144.9 765.7,1147.7C769.6,1150.5 770.4,1151.8 771.5,1154.0C772.6,1156.2 772.5,1158.8 772.5,1161.1C772.5,1163.4 772.2,1166.0 771.5,1168.0C770.8,1170.0 771.1,1171.4 768.4,1173.2C765.6,1175.0 760.6,1178.1 755.0,1178.6C749.4,1179.0 741.5,1178.1 734.8,1175.9C728.1,1173.7 722.5,1168.3 714.6,1165.2C706.8,1162.1 698.9,1158.9 687.7,1157.1C676.5,1155.3 662.5,1154.6 647.3,1154.4C632.0,1154.2 609.1,1155.4 596.2,1155.7C583.3,1156.0 574.4,1159.0 570.0,1156.0C565.6,1153.0 565.2,1141.8 570.0,1138.0Z" fill="#d7dae0"/>
<g clip-path="url(#c_armLR)">
<path d="M570.0,1138.0C574.8,1134.2 588.2,1134.9 598.8,1132.9C609.4,1130.9 621.2,1127.8 633.8,1126.1C646.4,1124.4 660.7,1122.8 674.2,1122.8C687.7,1122.8 702.3,1123.8 714.6,1126.1C726.9,1128.4 739.7,1133.3 748.2,1136.9C756.7,1140.5 761.8,1144.9 765.7,1147.7C769.6,1150.5 770.4,1151.8 771.5,1154.0C772.6,1156.2 772.5,1158.8 772.5,1161.1C772.5,1163.4 772.2,1166.0 771.5,1168.0C770.8,1170.0 771.1,1171.4 768.4,1173.2C765.6,1175.0 760.6,1178.1 755.0,1178.6C749.4,1179.0 741.5,1178.1 734.8,1175.9C728.1,1173.7 722.5,1168.3 714.6,1165.2C706.8,1162.1 698.9,1158.9 687.7,1157.1C676.5,1155.3 662.5,1154.6 647.3,1154.4C632.0,1154.2 609.1,1155.4 596.2,1155.7C583.3,1156.0 574.4,1159.0 570.0,1156.0C565.6,1153.0 565.2,1141.8 570.0,1138.0Z" fill="none" stroke="#aab0b9" stroke-width="20" filter="url(#b25)" transform="translate(0,0)"/>

<path d="M570.0,1138.0C574.8,1134.2 588.2,1134.9 598.8,1132.9C609.4,1130.9 621.2,1127.8 633.8,1126.1C646.4,1124.4 660.7,1122.8 674.2,1122.8C687.7,1122.8 702.3,1123.8 714.6,1126.1C726.9,1128.4 739.7,1133.3 748.2,1136.9C756.7,1140.5 761.8,1144.9 765.7,1147.7C769.6,1150.5 770.4,1151.8 771.5,1154.0C772.6,1156.2 772.5,1158.8 772.5,1161.1C772.5,1163.4 772.2,1166.0 771.5,1168.0C770.8,1170.0 771.1,1171.4 768.4,1173.2C765.6,1175.0 760.6,1178.1 755.0,1178.6C749.4,1179.0 741.5,1178.1 734.8,1175.9C728.1,1173.7 722.5,1168.3 714.6,1165.2C706.8,1162.1 698.9,1158.9 687.7,1157.1C676.5,1155.3 662.5,1154.6 647.3,1154.4C632.0,1154.2 609.1,1155.4 596.2,1155.7C583.3,1156.0 574.4,1159.0 570.0,1156.0C565.6,1153.0 565.2,1141.8 570.0,1138.0Z" fill="none" stroke="#eceef1" stroke-width="9.5" filter="url(#b05)"/>
<path d="M570.0,1138.0C574.8,1134.2 588.2,1134.9 598.8,1132.9C609.4,1130.9 621.2,1127.8 633.8,1126.1C646.4,1124.4 660.7,1122.8 674.2,1122.8C687.7,1122.8 702.3,1123.8 714.6,1126.1C726.9,1128.4 739.7,1133.3 748.2,1136.9C756.7,1140.5 761.8,1144.9 765.7,1147.7C769.6,1150.5 770.4,1151.8 771.5,1154.0C772.6,1156.2 772.5,1158.8 772.5,1161.1C772.5,1163.4 772.2,1166.0 771.5,1168.0C770.8,1170.0 771.1,1171.4 768.4,1173.2C765.6,1175.0 760.6,1178.1 755.0,1178.6C749.4,1179.0 741.5,1178.1 734.8,1175.9C728.1,1173.7 722.5,1168.3 714.6,1165.2C706.8,1162.1 698.9,1158.9 687.7,1157.1C676.5,1155.3 662.5,1154.6 647.3,1154.4C632.0,1154.2 609.1,1155.4 596.2,1155.7C583.3,1156.0 574.4,1159.0 570.0,1156.0C565.6,1153.0 565.2,1141.8 570.0,1138.0Z" fill="none" stroke="#a6acb5" stroke-width="1.8" transform="translate(-0.7,-0.7)"/>
</g>
<path d="M570.0,1138.0C574.8,1134.2 588.2,1134.9 598.8,1132.9C609.4,1130.9 621.2,1127.8 633.8,1126.1C646.4,1124.4 660.7,1122.8 674.2,1122.8C687.7,1122.8 702.3,1123.8 714.6,1126.1C726.9,1128.4 739.7,1133.3 748.2,1136.9C756.7,1140.5 761.8,1144.9 765.7,1147.7C769.6,1150.5 770.4,1151.8 771.5,1154.0C772.6,1156.2 772.5,1158.8 772.5,1161.1C772.5,1163.4 772.2,1166.0 771.5,1168.0C770.8,1170.0 771.1,1171.4 768.4,1173.2C765.6,1175.0 760.6,1178.1 755.0,1178.6C749.4,1179.0 741.5,1178.1 734.8,1175.9C728.1,1173.7 722.5,1168.3 714.6,1165.2C706.8,1162.1 698.9,1158.9 687.7,1157.1C676.5,1155.3 662.5,1154.6 647.3,1154.4C632.0,1154.2 609.1,1155.4 596.2,1155.7C583.3,1156.0 574.4,1159.0 570.0,1156.0C565.6,1153.0 565.2,1141.8 570.0,1138.0Z" fill="none" stroke="#b4bac3" stroke-width="1"/>
</g>
<g id="ribTR">
<path d="M571.0,1040.0C567.4,1035.6 570.5,1025.6 570.2,1013.6C569.9,1001.6 570.0,979.4 569.0,968.0C568.0,956.6 566.2,952.6 564.5,945.0C562.8,937.4 561.3,929.2 558.8,922.5C556.3,915.8 552.7,910.7 549.7,905.0C546.7,899.3 543.4,894.8 540.6,888.3C537.8,881.8 535.0,872.8 533.0,866.0C531.0,859.2 528.9,851.5 528.6,847.3C528.4,843.0 529.8,842.3 531.5,840.5C533.2,838.7 536.0,837.1 539.0,836.3C542.0,835.4 545.2,834.9 549.7,835.4C554.2,835.9 561.3,837.2 565.7,839.4C570.1,841.6 573.0,845.1 576.0,848.5C579.0,851.9 581.4,855.5 583.9,859.9C586.4,864.3 589.1,870.0 590.8,874.7C592.5,879.4 592.9,883.2 594.0,888.3C595.1,893.4 596.7,899.7 597.5,905.4C598.3,911.1 598.3,915.9 598.7,922.5C599.1,929.1 599.8,937.4 599.8,945.0C599.8,952.6 599.5,960.4 598.7,968.0C598.0,975.6 596.4,978.8 595.3,990.8C594.2,1002.8 596.0,1031.8 592.0,1040.0C588.0,1048.2 574.6,1044.4 571.0,1040.0Z" fill="#d7dae0"/>
<g clip-path="url(#c_ribTR)">
<path d="M571.0,1040.0C567.4,1035.6 570.5,1025.6 570.2,1013.6C569.9,1001.6 570.0,979.4 569.0,968.0C568.0,956.6 566.2,952.6 564.5,945.0C562.8,937.4 561.3,929.2 558.8,922.5C556.3,915.8 552.7,910.7 549.7,905.0C546.7,899.3 543.4,894.8 540.6,888.3C537.8,881.8 535.0,872.8 533.0,866.0C531.0,859.2 528.9,851.5 528.6,847.3C528.4,843.0 529.8,842.3 531.5,840.5C533.2,838.7 536.0,837.1 539.0,836.3C542.0,835.4 545.2,834.9 549.7,835.4C554.2,835.9 561.3,837.2 565.7,839.4C570.1,841.6 573.0,845.1 576.0,848.5C579.0,851.9 581.4,855.5 583.9,859.9C586.4,864.3 589.1,870.0 590.8,874.7C592.5,879.4 592.9,883.2 594.0,888.3C595.1,893.4 596.7,899.7 597.5,905.4C598.3,911.1 598.3,915.9 598.7,922.5C599.1,929.1 599.8,937.4 599.8,945.0C599.8,952.6 599.5,960.4 598.7,968.0C598.0,975.6 596.4,978.8 595.3,990.8C594.2,1002.8 596.0,1031.8 592.0,1040.0C588.0,1048.2 574.6,1044.4 571.0,1040.0Z" fill="none" stroke="#aab0b9" stroke-width="20" filter="url(#b25)" transform="translate(0,0)"/>

<path d="M571.0,1040.0C567.4,1035.6 570.5,1025.6 570.2,1013.6C569.9,1001.6 570.0,979.4 569.0,968.0C568.0,956.6 566.2,952.6 564.5,945.0C562.8,937.4 561.3,929.2 558.8,922.5C556.3,915.8 552.7,910.7 549.7,905.0C546.7,899.3 543.4,894.8 540.6,888.3C537.8,881.8 535.0,872.8 533.0,866.0C531.0,859.2 528.9,851.5 528.6,847.3C528.4,843.0 529.8,842.3 531.5,840.5C533.2,838.7 536.0,837.1 539.0,836.3C542.0,835.4 545.2,834.9 549.7,835.4C554.2,835.9 561.3,837.2 565.7,839.4C570.1,841.6 573.0,845.1 576.0,848.5C579.0,851.9 581.4,855.5 583.9,859.9C586.4,864.3 589.1,870.0 590.8,874.7C592.5,879.4 592.9,883.2 594.0,888.3C595.1,893.4 596.7,899.7 597.5,905.4C598.3,911.1 598.3,915.9 598.7,922.5C599.1,929.1 599.8,937.4 599.8,945.0C599.8,952.6 599.5,960.4 598.7,968.0C598.0,975.6 596.4,978.8 595.3,990.8C594.2,1002.8 596.0,1031.8 592.0,1040.0C588.0,1048.2 574.6,1044.4 571.0,1040.0Z" fill="none" stroke="#eceef1" stroke-width="9.5" filter="url(#b05)"/>
<path d="M571.0,1040.0C567.4,1035.6 570.5,1025.6 570.2,1013.6C569.9,1001.6 570.0,979.4 569.0,968.0C568.0,956.6 566.2,952.6 564.5,945.0C562.8,937.4 561.3,929.2 558.8,922.5C556.3,915.8 552.7,910.7 549.7,905.0C546.7,899.3 543.4,894.8 540.6,888.3C537.8,881.8 535.0,872.8 533.0,866.0C531.0,859.2 528.9,851.5 528.6,847.3C528.4,843.0 529.8,842.3 531.5,840.5C533.2,838.7 536.0,837.1 539.0,836.3C542.0,835.4 545.2,834.9 549.7,835.4C554.2,835.9 561.3,837.2 565.7,839.4C570.1,841.6 573.0,845.1 576.0,848.5C579.0,851.9 581.4,855.5 583.9,859.9C586.4,864.3 589.1,870.0 590.8,874.7C592.5,879.4 592.9,883.2 594.0,888.3C595.1,893.4 596.7,899.7 597.5,905.4C598.3,911.1 598.3,915.9 598.7,922.5C599.1,929.1 599.8,937.4 599.8,945.0C599.8,952.6 599.5,960.4 598.7,968.0C598.0,975.6 596.4,978.8 595.3,990.8C594.2,1002.8 596.0,1031.8 592.0,1040.0C588.0,1048.2 574.6,1044.4 571.0,1040.0Z" fill="none" stroke="#a6acb5" stroke-width="1.8" transform="translate(-0.7,-0.7)"/>
</g>
<path d="M571.0,1040.0C567.4,1035.6 570.5,1025.6 570.2,1013.6C569.9,1001.6 570.0,979.4 569.0,968.0C568.0,956.6 566.2,952.6 564.5,945.0C562.8,937.4 561.3,929.2 558.8,922.5C556.3,915.8 552.7,910.7 549.7,905.0C546.7,899.3 543.4,894.8 540.6,888.3C537.8,881.8 535.0,872.8 533.0,866.0C531.0,859.2 528.9,851.5 528.6,847.3C528.4,843.0 529.8,842.3 531.5,840.5C533.2,838.7 536.0,837.1 539.0,836.3C542.0,835.4 545.2,834.9 549.7,835.4C554.2,835.9 561.3,837.2 565.7,839.4C570.1,841.6 573.0,845.1 576.0,848.5C579.0,851.9 581.4,855.5 583.9,859.9C586.4,864.3 589.1,870.0 590.8,874.7C592.5,879.4 592.9,883.2 594.0,888.3C595.1,893.4 596.7,899.7 597.5,905.4C598.3,911.1 598.3,915.9 598.7,922.5C599.1,929.1 599.8,937.4 599.8,945.0C599.8,952.6 599.5,960.4 598.7,968.0C598.0,975.6 596.4,978.8 595.3,990.8C594.2,1002.8 596.0,1031.8 592.0,1040.0C588.0,1048.2 574.6,1044.4 571.0,1040.0Z" fill="none" stroke="#b4bac3" stroke-width="1"/>
</g>
<g id="ribTL">
<path d="M532.0,1075.0C530.0,1067.8 531.5,1047.5 530.7,1034.5C529.9,1021.5 528.8,1009.3 527.0,997.3C525.2,985.3 522.6,973.0 520.1,962.4C517.6,951.8 514.0,942.5 512.1,933.9C510.2,925.3 508.5,917.1 508.7,911.0C508.9,904.9 510.8,900.7 513.3,897.4C515.8,894.1 520.1,892.0 523.5,891.2C526.9,890.5 530.9,891.5 533.8,892.9C536.6,894.3 538.0,895.7 540.6,899.7C543.2,903.7 546.9,909.2 549.7,916.8C552.6,924.4 555.8,934.8 557.7,945.3C559.6,955.8 560.7,969.5 561.0,979.5C561.3,989.5 560.3,996.6 559.5,1005.0C558.7,1013.4 557.6,1022.2 556.0,1030.0C554.4,1037.8 552.2,1044.0 550.0,1052.0C547.8,1060.0 546.0,1074.2 543.0,1078.0C540.0,1081.8 534.0,1082.2 532.0,1075.0Z" fill="#d7dae0"/>
<g clip-path="url(#c_ribTL)">
<path d="M532.0,1075.0C530.0,1067.8 531.5,1047.5 530.7,1034.5C529.9,1021.5 528.8,1009.3 527.0,997.3C525.2,985.3 522.6,973.0 520.1,962.4C517.6,951.8 514.0,942.5 512.1,933.9C510.2,925.3 508.5,917.1 508.7,911.0C508.9,904.9 510.8,900.7 513.3,897.4C515.8,894.1 520.1,892.0 523.5,891.2C526.9,890.5 530.9,891.5 533.8,892.9C536.6,894.3 538.0,895.7 540.6,899.7C543.2,903.7 546.9,909.2 549.7,916.8C552.6,924.4 555.8,934.8 557.7,945.3C559.6,955.8 560.7,969.5 561.0,979.5C561.3,989.5 560.3,996.6 559.5,1005.0C558.7,1013.4 557.6,1022.2 556.0,1030.0C554.4,1037.8 552.2,1044.0 550.0,1052.0C547.8,1060.0 546.0,1074.2 543.0,1078.0C540.0,1081.8 534.0,1082.2 532.0,1075.0Z" fill="none" stroke="#aab0b9" stroke-width="20" filter="url(#b25)" transform="translate(0,0)"/>

<path d="M532.0,1075.0C530.0,1067.8 531.5,1047.5 530.7,1034.5C529.9,1021.5 528.8,1009.3 527.0,997.3C525.2,985.3 522.6,973.0 520.1,962.4C517.6,951.8 514.0,942.5 512.1,933.9C510.2,925.3 508.5,917.1 508.7,911.0C508.9,904.9 510.8,900.7 513.3,897.4C515.8,894.1 520.1,892.0 523.5,891.2C526.9,890.5 530.9,891.5 533.8,892.9C536.6,894.3 538.0,895.7 540.6,899.7C543.2,903.7 546.9,909.2 549.7,916.8C552.6,924.4 555.8,934.8 557.7,945.3C559.6,955.8 560.7,969.5 561.0,979.5C561.3,989.5 560.3,996.6 559.5,1005.0C558.7,1013.4 557.6,1022.2 556.0,1030.0C554.4,1037.8 552.2,1044.0 550.0,1052.0C547.8,1060.0 546.0,1074.2 543.0,1078.0C540.0,1081.8 534.0,1082.2 532.0,1075.0Z" fill="none" stroke="#eceef1" stroke-width="9.5" filter="url(#b05)"/>
<path d="M532.0,1075.0C530.0,1067.8 531.5,1047.5 530.7,1034.5C529.9,1021.5 528.8,1009.3 527.0,997.3C525.2,985.3 522.6,973.0 520.1,962.4C517.6,951.8 514.0,942.5 512.1,933.9C510.2,925.3 508.5,917.1 508.7,911.0C508.9,904.9 510.8,900.7 513.3,897.4C515.8,894.1 520.1,892.0 523.5,891.2C526.9,890.5 530.9,891.5 533.8,892.9C536.6,894.3 538.0,895.7 540.6,899.7C543.2,903.7 546.9,909.2 549.7,916.8C552.6,924.4 555.8,934.8 557.7,945.3C559.6,955.8 560.7,969.5 561.0,979.5C561.3,989.5 560.3,996.6 559.5,1005.0C558.7,1013.4 557.6,1022.2 556.0,1030.0C554.4,1037.8 552.2,1044.0 550.0,1052.0C547.8,1060.0 546.0,1074.2 543.0,1078.0C540.0,1081.8 534.0,1082.2 532.0,1075.0Z" fill="none" stroke="#a6acb5" stroke-width="1.8" transform="translate(-0.7,-0.7)"/>
</g>
<path d="M532.0,1075.0C530.0,1067.8 531.5,1047.5 530.7,1034.5C529.9,1021.5 528.8,1009.3 527.0,997.3C525.2,985.3 522.6,973.0 520.1,962.4C517.6,951.8 514.0,942.5 512.1,933.9C510.2,925.3 508.5,917.1 508.7,911.0C508.9,904.9 510.8,900.7 513.3,897.4C515.8,894.1 520.1,892.0 523.5,891.2C526.9,890.5 530.9,891.5 533.8,892.9C536.6,894.3 538.0,895.7 540.6,899.7C543.2,903.7 546.9,909.2 549.7,916.8C552.6,924.4 555.8,934.8 557.7,945.3C559.6,955.8 560.7,969.5 561.0,979.5C561.3,989.5 560.3,996.6 559.5,1005.0C558.7,1013.4 557.6,1022.2 556.0,1030.0C554.4,1037.8 552.2,1044.0 550.0,1052.0C547.8,1060.0 546.0,1074.2 543.0,1078.0C540.0,1081.8 534.0,1082.2 532.0,1075.0Z" fill="none" stroke="#b4bac3" stroke-width="1"/>
</g>
<g id="ribLL">
<path d="M548.0,1150.0C543.2,1155.4 543.4,1162.5 539.5,1172.4C535.6,1182.4 528.7,1196.2 524.6,1209.7C520.5,1223.2 517.6,1238.7 514.7,1253.2C511.8,1267.7 509.5,1283.1 507.2,1296.6C504.9,1310.0 502.6,1321.5 501.0,1333.9C499.4,1346.3 498.0,1360.2 497.3,1371.2C496.6,1382.2 496.4,1388.2 496.6,1400.0C496.8,1411.8 496.9,1426.8 498.5,1442.1C500.1,1457.4 503.1,1476.3 506.0,1491.8C508.9,1507.3 512.0,1521.8 515.9,1535.3C519.8,1548.8 524.4,1561.5 529.6,1572.5C534.8,1583.5 541.4,1594.5 547.0,1601.1C552.6,1607.7 559.0,1610.0 563.1,1612.3C567.2,1614.6 568.7,1615.2 571.8,1614.8C574.9,1614.4 579.1,1612.7 581.7,1609.8C584.3,1606.9 586.5,1602.6 587.3,1597.4C588.1,1592.2 588.2,1586.0 586.7,1578.8C585.2,1571.5 581.9,1563.2 578.0,1553.9C574.1,1544.6 567.9,1535.3 563.1,1522.9C558.3,1510.5 553.1,1494.9 549.4,1479.4C545.7,1463.9 542.8,1444.2 540.7,1429.7C538.6,1415.2 537.7,1402.2 537.0,1392.4C536.3,1382.7 536.3,1381.0 536.4,1371.2C536.5,1361.5 536.9,1346.3 537.6,1333.9C538.3,1321.5 539.4,1310.0 540.7,1296.6C542.1,1283.1 543.8,1267.7 545.7,1253.2C547.6,1238.7 549.4,1224.0 551.9,1209.7C554.4,1195.4 557.9,1179.1 560.6,1167.5C563.3,1155.9 570.1,1142.9 568.0,1140.0C565.9,1137.1 552.8,1144.6 548.0,1150.0Z" fill="url(#gLow)"/>
<g clip-path="url(#c_ribLL)">
<g filter="url(#b9)"><ellipse cx="556" cy="1560" rx="18" ry="62" transform="rotate(-22 556 1560)" fill="#b1b6bf"/></g>
<path d="M548.0,1150.0C543.2,1155.4 543.4,1162.5 539.5,1172.4C535.6,1182.4 528.7,1196.2 524.6,1209.7C520.5,1223.2 517.6,1238.7 514.7,1253.2C511.8,1267.7 509.5,1283.1 507.2,1296.6C504.9,1310.0 502.6,1321.5 501.0,1333.9C499.4,1346.3 498.0,1360.2 497.3,1371.2C496.6,1382.2 496.4,1388.2 496.6,1400.0C496.8,1411.8 496.9,1426.8 498.5,1442.1C500.1,1457.4 503.1,1476.3 506.0,1491.8C508.9,1507.3 512.0,1521.8 515.9,1535.3C519.8,1548.8 524.4,1561.5 529.6,1572.5C534.8,1583.5 541.4,1594.5 547.0,1601.1C552.6,1607.7 559.0,1610.0 563.1,1612.3C567.2,1614.6 568.7,1615.2 571.8,1614.8C574.9,1614.4 579.1,1612.7 581.7,1609.8C584.3,1606.9 586.5,1602.6 587.3,1597.4C588.1,1592.2 588.2,1586.0 586.7,1578.8C585.2,1571.5 581.9,1563.2 578.0,1553.9C574.1,1544.6 567.9,1535.3 563.1,1522.9C558.3,1510.5 553.1,1494.9 549.4,1479.4C545.7,1463.9 542.8,1444.2 540.7,1429.7C538.6,1415.2 537.7,1402.2 537.0,1392.4C536.3,1382.7 536.3,1381.0 536.4,1371.2C536.5,1361.5 536.9,1346.3 537.6,1333.9C538.3,1321.5 539.4,1310.0 540.7,1296.6C542.1,1283.1 543.8,1267.7 545.7,1253.2C547.6,1238.7 549.4,1224.0 551.9,1209.7C554.4,1195.4 557.9,1179.1 560.6,1167.5C563.3,1155.9 570.1,1142.9 568.0,1140.0C565.9,1137.1 552.8,1144.6 548.0,1150.0Z" fill="none" stroke="#aab0b9" stroke-width="20" filter="url(#b25)" transform="translate(-2,-1)"/>

<path d="M548.0,1150.0C543.2,1155.4 543.4,1162.5 539.5,1172.4C535.6,1182.4 528.7,1196.2 524.6,1209.7C520.5,1223.2 517.6,1238.7 514.7,1253.2C511.8,1267.7 509.5,1283.1 507.2,1296.6C504.9,1310.0 502.6,1321.5 501.0,1333.9C499.4,1346.3 498.0,1360.2 497.3,1371.2C496.6,1382.2 496.4,1388.2 496.6,1400.0C496.8,1411.8 496.9,1426.8 498.5,1442.1C500.1,1457.4 503.1,1476.3 506.0,1491.8C508.9,1507.3 512.0,1521.8 515.9,1535.3C519.8,1548.8 524.4,1561.5 529.6,1572.5C534.8,1583.5 541.4,1594.5 547.0,1601.1C552.6,1607.7 559.0,1610.0 563.1,1612.3C567.2,1614.6 568.7,1615.2 571.8,1614.8C574.9,1614.4 579.1,1612.7 581.7,1609.8C584.3,1606.9 586.5,1602.6 587.3,1597.4C588.1,1592.2 588.2,1586.0 586.7,1578.8C585.2,1571.5 581.9,1563.2 578.0,1553.9C574.1,1544.6 567.9,1535.3 563.1,1522.9C558.3,1510.5 553.1,1494.9 549.4,1479.4C545.7,1463.9 542.8,1444.2 540.7,1429.7C538.6,1415.2 537.7,1402.2 537.0,1392.4C536.3,1382.7 536.3,1381.0 536.4,1371.2C536.5,1361.5 536.9,1346.3 537.6,1333.9C538.3,1321.5 539.4,1310.0 540.7,1296.6C542.1,1283.1 543.8,1267.7 545.7,1253.2C547.6,1238.7 549.4,1224.0 551.9,1209.7C554.4,1195.4 557.9,1179.1 560.6,1167.5C563.3,1155.9 570.1,1142.9 568.0,1140.0C565.9,1137.1 552.8,1144.6 548.0,1150.0Z" fill="none" stroke="#eceef1" stroke-width="9.5" filter="url(#b05)"/>
<path d="M548.0,1150.0C543.2,1155.4 543.4,1162.5 539.5,1172.4C535.6,1182.4 528.7,1196.2 524.6,1209.7C520.5,1223.2 517.6,1238.7 514.7,1253.2C511.8,1267.7 509.5,1283.1 507.2,1296.6C504.9,1310.0 502.6,1321.5 501.0,1333.9C499.4,1346.3 498.0,1360.2 497.3,1371.2C496.6,1382.2 496.4,1388.2 496.6,1400.0C496.8,1411.8 496.9,1426.8 498.5,1442.1C500.1,1457.4 503.1,1476.3 506.0,1491.8C508.9,1507.3 512.0,1521.8 515.9,1535.3C519.8,1548.8 524.4,1561.5 529.6,1572.5C534.8,1583.5 541.4,1594.5 547.0,1601.1C552.6,1607.7 559.0,1610.0 563.1,1612.3C567.2,1614.6 568.7,1615.2 571.8,1614.8C574.9,1614.4 579.1,1612.7 581.7,1609.8C584.3,1606.9 586.5,1602.6 587.3,1597.4C588.1,1592.2 588.2,1586.0 586.7,1578.8C585.2,1571.5 581.9,1563.2 578.0,1553.9C574.1,1544.6 567.9,1535.3 563.1,1522.9C558.3,1510.5 553.1,1494.9 549.4,1479.4C545.7,1463.9 542.8,1444.2 540.7,1429.7C538.6,1415.2 537.7,1402.2 537.0,1392.4C536.3,1382.7 536.3,1381.0 536.4,1371.2C536.5,1361.5 536.9,1346.3 537.6,1333.9C538.3,1321.5 539.4,1310.0 540.7,1296.6C542.1,1283.1 543.8,1267.7 545.7,1253.2C547.6,1238.7 549.4,1224.0 551.9,1209.7C554.4,1195.4 557.9,1179.1 560.6,1167.5C563.3,1155.9 570.1,1142.9 568.0,1140.0C565.9,1137.1 552.8,1144.6 548.0,1150.0Z" fill="none" stroke="#a6acb5" stroke-width="1.8" transform="translate(-0.7,-0.7)"/>
</g>
<path d="M548.0,1150.0C543.2,1155.4 543.4,1162.5 539.5,1172.4C535.6,1182.4 528.7,1196.2 524.6,1209.7C520.5,1223.2 517.6,1238.7 514.7,1253.2C511.8,1267.7 509.5,1283.1 507.2,1296.6C504.9,1310.0 502.6,1321.5 501.0,1333.9C499.4,1346.3 498.0,1360.2 497.3,1371.2C496.6,1382.2 496.4,1388.2 496.6,1400.0C496.8,1411.8 496.9,1426.8 498.5,1442.1C500.1,1457.4 503.1,1476.3 506.0,1491.8C508.9,1507.3 512.0,1521.8 515.9,1535.3C519.8,1548.8 524.4,1561.5 529.6,1572.5C534.8,1583.5 541.4,1594.5 547.0,1601.1C552.6,1607.7 559.0,1610.0 563.1,1612.3C567.2,1614.6 568.7,1615.2 571.8,1614.8C574.9,1614.4 579.1,1612.7 581.7,1609.8C584.3,1606.9 586.5,1602.6 587.3,1597.4C588.1,1592.2 588.2,1586.0 586.7,1578.8C585.2,1571.5 581.9,1563.2 578.0,1553.9C574.1,1544.6 567.9,1535.3 563.1,1522.9C558.3,1510.5 553.1,1494.9 549.4,1479.4C545.7,1463.9 542.8,1444.2 540.7,1429.7C538.6,1415.2 537.7,1402.2 537.0,1392.4C536.3,1382.7 536.3,1381.0 536.4,1371.2C536.5,1361.5 536.9,1346.3 537.6,1333.9C538.3,1321.5 539.4,1310.0 540.7,1296.6C542.1,1283.1 543.8,1267.7 545.7,1253.2C547.6,1238.7 549.4,1224.0 551.9,1209.7C554.4,1195.4 557.9,1179.1 560.6,1167.5C563.3,1155.9 570.1,1142.9 568.0,1140.0C565.9,1137.1 552.8,1144.6 548.0,1150.0Z" fill="none" stroke="#b4bac3" stroke-width="1"/>
</g>
<g id="ribLR">
<path d="M577.0,1130.0C571.2,1139.2 572.2,1154.2 569.3,1167.5C566.4,1180.8 562.3,1195.4 559.4,1209.7C556.5,1224.0 553.8,1238.7 551.9,1253.2C550.0,1267.7 549.1,1283.1 548.2,1296.6C547.3,1310.0 546.5,1321.5 546.3,1333.9C546.1,1346.3 546.6,1360.2 547.0,1371.2C547.4,1382.2 547.6,1390.2 548.8,1400.0C550.0,1409.8 552.0,1417.5 554.4,1429.7C556.8,1441.9 560.2,1460.8 563.1,1473.2C566.0,1485.6 568.7,1494.9 571.8,1504.2C574.9,1513.5 578.0,1522.4 581.7,1529.0C585.4,1535.6 590.1,1540.6 594.2,1544.0C598.4,1547.4 603.3,1549.0 606.6,1549.6C609.9,1550.2 611.5,1549.3 614.0,1547.7C616.5,1546.1 619.5,1544.3 621.5,1540.2C623.5,1536.1 625.6,1529.9 625.8,1522.9C626.0,1515.9 624.9,1507.3 622.7,1498.0C620.5,1488.7 616.7,1478.4 612.8,1467.0C608.9,1455.6 601.9,1437.5 599.1,1429.7C596.3,1421.9 597.5,1426.2 595.9,1420.0C594.3,1413.8 591.4,1401.2 589.3,1392.5C587.2,1383.8 585.1,1376.0 583.5,1367.7C581.9,1359.4 580.4,1351.1 579.4,1342.8C578.4,1334.5 577.9,1326.3 577.7,1318.0C577.5,1309.7 577.6,1303.9 578.1,1293.1C578.6,1282.3 579.6,1267.1 581.0,1253.2C582.4,1239.3 585.1,1224.0 586.7,1209.7C588.3,1195.4 588.6,1180.1 590.4,1167.5C592.2,1154.9 595.2,1143.5 597.5,1134.2C599.8,1125.0 607.4,1112.7 604.0,1112.0C600.6,1111.3 582.8,1120.8 577.0,1130.0Z" fill="url(#gLow)"/>
<g clip-path="url(#c_ribLR)">
<g filter="url(#b9)"><ellipse cx="601" cy="1500" rx="15" ry="55" transform="rotate(-20 601 1500)" fill="#aeb3bc"/></g>
<path d="M577.0,1130.0C571.2,1139.2 572.2,1154.2 569.3,1167.5C566.4,1180.8 562.3,1195.4 559.4,1209.7C556.5,1224.0 553.8,1238.7 551.9,1253.2C550.0,1267.7 549.1,1283.1 548.2,1296.6C547.3,1310.0 546.5,1321.5 546.3,1333.9C546.1,1346.3 546.6,1360.2 547.0,1371.2C547.4,1382.2 547.6,1390.2 548.8,1400.0C550.0,1409.8 552.0,1417.5 554.4,1429.7C556.8,1441.9 560.2,1460.8 563.1,1473.2C566.0,1485.6 568.7,1494.9 571.8,1504.2C574.9,1513.5 578.0,1522.4 581.7,1529.0C585.4,1535.6 590.1,1540.6 594.2,1544.0C598.4,1547.4 603.3,1549.0 606.6,1549.6C609.9,1550.2 611.5,1549.3 614.0,1547.7C616.5,1546.1 619.5,1544.3 621.5,1540.2C623.5,1536.1 625.6,1529.9 625.8,1522.9C626.0,1515.9 624.9,1507.3 622.7,1498.0C620.5,1488.7 616.7,1478.4 612.8,1467.0C608.9,1455.6 601.9,1437.5 599.1,1429.7C596.3,1421.9 597.5,1426.2 595.9,1420.0C594.3,1413.8 591.4,1401.2 589.3,1392.5C587.2,1383.8 585.1,1376.0 583.5,1367.7C581.9,1359.4 580.4,1351.1 579.4,1342.8C578.4,1334.5 577.9,1326.3 577.7,1318.0C577.5,1309.7 577.6,1303.9 578.1,1293.1C578.6,1282.3 579.6,1267.1 581.0,1253.2C582.4,1239.3 585.1,1224.0 586.7,1209.7C588.3,1195.4 588.6,1180.1 590.4,1167.5C592.2,1154.9 595.2,1143.5 597.5,1134.2C599.8,1125.0 607.4,1112.7 604.0,1112.0C600.6,1111.3 582.8,1120.8 577.0,1130.0Z" fill="none" stroke="#aab0b9" stroke-width="20" filter="url(#b25)" transform="translate(-2,-1)"/>

<path d="M577.0,1130.0C571.2,1139.2 572.2,1154.2 569.3,1167.5C566.4,1180.8 562.3,1195.4 559.4,1209.7C556.5,1224.0 553.8,1238.7 551.9,1253.2C550.0,1267.7 549.1,1283.1 548.2,1296.6C547.3,1310.0 546.5,1321.5 546.3,1333.9C546.1,1346.3 546.6,1360.2 547.0,1371.2C547.4,1382.2 547.6,1390.2 548.8,1400.0C550.0,1409.8 552.0,1417.5 554.4,1429.7C556.8,1441.9 560.2,1460.8 563.1,1473.2C566.0,1485.6 568.7,1494.9 571.8,1504.2C574.9,1513.5 578.0,1522.4 581.7,1529.0C585.4,1535.6 590.1,1540.6 594.2,1544.0C598.4,1547.4 603.3,1549.0 606.6,1549.6C609.9,1550.2 611.5,1549.3 614.0,1547.7C616.5,1546.1 619.5,1544.3 621.5,1540.2C623.5,1536.1 625.6,1529.9 625.8,1522.9C626.0,1515.9 624.9,1507.3 622.7,1498.0C620.5,1488.7 616.7,1478.4 612.8,1467.0C608.9,1455.6 601.9,1437.5 599.1,1429.7C596.3,1421.9 597.5,1426.2 595.9,1420.0C594.3,1413.8 591.4,1401.2 589.3,1392.5C587.2,1383.8 585.1,1376.0 583.5,1367.7C581.9,1359.4 580.4,1351.1 579.4,1342.8C578.4,1334.5 577.9,1326.3 577.7,1318.0C577.5,1309.7 577.6,1303.9 578.1,1293.1C578.6,1282.3 579.6,1267.1 581.0,1253.2C582.4,1239.3 585.1,1224.0 586.7,1209.7C588.3,1195.4 588.6,1180.1 590.4,1167.5C592.2,1154.9 595.2,1143.5 597.5,1134.2C599.8,1125.0 607.4,1112.7 604.0,1112.0C600.6,1111.3 582.8,1120.8 577.0,1130.0Z" fill="none" stroke="#eceef1" stroke-width="9.5" filter="url(#b05)"/>
<path d="M577.0,1130.0C571.2,1139.2 572.2,1154.2 569.3,1167.5C566.4,1180.8 562.3,1195.4 559.4,1209.7C556.5,1224.0 553.8,1238.7 551.9,1253.2C550.0,1267.7 549.1,1283.1 548.2,1296.6C547.3,1310.0 546.5,1321.5 546.3,1333.9C546.1,1346.3 546.6,1360.2 547.0,1371.2C547.4,1382.2 547.6,1390.2 548.8,1400.0C550.0,1409.8 552.0,1417.5 554.4,1429.7C556.8,1441.9 560.2,1460.8 563.1,1473.2C566.0,1485.6 568.7,1494.9 571.8,1504.2C574.9,1513.5 578.0,1522.4 581.7,1529.0C585.4,1535.6 590.1,1540.6 594.2,1544.0C598.4,1547.4 603.3,1549.0 606.6,1549.6C609.9,1550.2 611.5,1549.3 614.0,1547.7C616.5,1546.1 619.5,1544.3 621.5,1540.2C623.5,1536.1 625.6,1529.9 625.8,1522.9C626.0,1515.9 624.9,1507.3 622.7,1498.0C620.5,1488.7 616.7,1478.4 612.8,1467.0C608.9,1455.6 601.9,1437.5 599.1,1429.7C596.3,1421.9 597.5,1426.2 595.9,1420.0C594.3,1413.8 591.4,1401.2 589.3,1392.5C587.2,1383.8 585.1,1376.0 583.5,1367.7C581.9,1359.4 580.4,1351.1 579.4,1342.8C578.4,1334.5 577.9,1326.3 577.7,1318.0C577.5,1309.7 577.6,1303.9 578.1,1293.1C578.6,1282.3 579.6,1267.1 581.0,1253.2C582.4,1239.3 585.1,1224.0 586.7,1209.7C588.3,1195.4 588.6,1180.1 590.4,1167.5C592.2,1154.9 595.2,1143.5 597.5,1134.2C599.8,1125.0 607.4,1112.7 604.0,1112.0C600.6,1111.3 582.8,1120.8 577.0,1130.0Z" fill="none" stroke="#a6acb5" stroke-width="1.8" transform="translate(-0.7,-0.7)"/>
</g>
<path d="M577.0,1130.0C571.2,1139.2 572.2,1154.2 569.3,1167.5C566.4,1180.8 562.3,1195.4 559.4,1209.7C556.5,1224.0 553.8,1238.7 551.9,1253.2C550.0,1267.7 549.1,1283.1 548.2,1296.6C547.3,1310.0 546.5,1321.5 546.3,1333.9C546.1,1346.3 546.6,1360.2 547.0,1371.2C547.4,1382.2 547.6,1390.2 548.8,1400.0C550.0,1409.8 552.0,1417.5 554.4,1429.7C556.8,1441.9 560.2,1460.8 563.1,1473.2C566.0,1485.6 568.7,1494.9 571.8,1504.2C574.9,1513.5 578.0,1522.4 581.7,1529.0C585.4,1535.6 590.1,1540.6 594.2,1544.0C598.4,1547.4 603.3,1549.0 606.6,1549.6C609.9,1550.2 611.5,1549.3 614.0,1547.7C616.5,1546.1 619.5,1544.3 621.5,1540.2C623.5,1536.1 625.6,1529.9 625.8,1522.9C626.0,1515.9 624.9,1507.3 622.7,1498.0C620.5,1488.7 616.7,1478.4 612.8,1467.0C608.9,1455.6 601.9,1437.5 599.1,1429.7C596.3,1421.9 597.5,1426.2 595.9,1420.0C594.3,1413.8 591.4,1401.2 589.3,1392.5C587.2,1383.8 585.1,1376.0 583.5,1367.7C581.9,1359.4 580.4,1351.1 579.4,1342.8C578.4,1334.5 577.9,1326.3 577.7,1318.0C577.5,1309.7 577.6,1303.9 578.1,1293.1C578.6,1282.3 579.6,1267.1 581.0,1253.2C582.4,1239.3 585.1,1224.0 586.7,1209.7C588.3,1195.4 588.6,1180.1 590.4,1167.5C592.2,1154.9 595.2,1143.5 597.5,1134.2C599.8,1125.0 607.4,1112.7 604.0,1112.0C600.6,1111.3 582.8,1120.8 577.0,1130.0Z" fill="none" stroke="#b4bac3" stroke-width="1"/>
</g>
<g id="twist"><path d="M614,1030 L600,1030 C585,1052 566,1068 548,1082 C535,1095 528,1110 522,1140 L540,1150 C556,1130 575,1112 592,1098 C606,1078 613,1052 614,1030Z" fill="#dcdfe5"/><path d="M556.9,1080 C548,1088 540,1096 534,1104 C531,1112 529,1124 527,1138 L541,1146 C544,1128 548,1110 555,1087Z" fill="#c2c7cf" stroke="#aab0b9" stroke-width="0.8"/><path d="M579.8,1063.2 C570,1070 562,1076 558.3,1079.3 C553,1095 549,1108 546,1128 L552,1137 C556,1122 561,1112 566.3,1105.6 C570,1098 574,1086 577.1,1073.9Z" fill="#e4e7eb" stroke="#b3b9c1" stroke-width="0.8"/><path d="M558.3,1079.3 C553,1095 549,1108 546,1128 L549,1132 C552,1112 556,1096 562,1081Z" fill="#a9afb8"/><path d="M612.8,1030.2 C602,1042 590,1054 581.1,1061.8 C578,1074 574,1086 565.7,1106.2 C574,1102 585,1093 593.9,1084 C602,1072 608,1058 612.1,1043.6Z" fill="#f3f4f6" stroke="#b9bec6" stroke-width="0.8"/><path d="M612.8,1032 C611,1050 603,1070 593.9,1084 C588,1090 580,1097 572,1102 C590,1084 604,1060 609,1036Z" fill="#d7dbe0"/></g>
<g id="bandA">
<path d="M604.5,969.5C606.2,968.2 610.1,967.8 613.0,967.8C615.9,967.8 620.3,968.2 622.0,969.5C623.7,970.8 623.6,969.8 623.3,975.5C623.0,981.2 623.2,994.4 619.9,1003.7C616.6,1012.9 610.0,1022.1 603.3,1031.1C596.7,1040.0 587.6,1049.3 579.9,1057.1C572.3,1065.0 565.0,1071.2 557.4,1078.3C549.9,1085.5 541.6,1092.7 534.5,1100.0C527.4,1107.3 520.5,1114.6 514.8,1122.1C509.2,1129.7 504.2,1137.3 500.6,1145.3C497.1,1153.3 495.1,1162.7 493.7,1170.2C492.2,1177.6 492.9,1184.5 492.0,1190.0C491.1,1195.5 489.7,1200.2 488.0,1203.0C486.3,1205.8 484.5,1207.5 482.0,1207.0C479.5,1206.5 475.6,1203.2 473.0,1200.0C470.4,1196.8 467.8,1193.6 466.5,1188.0C465.2,1182.4 464.0,1175.3 465.4,1166.5C466.8,1157.7 470.4,1145.6 475.0,1135.0C479.6,1124.4 486.4,1112.0 493.1,1102.8C499.7,1093.6 507.5,1087.4 515.0,1079.7C522.5,1072.0 530.5,1063.7 538.1,1056.6C545.6,1049.4 553.2,1043.6 560.4,1036.8C567.5,1029.9 575.4,1023.0 581.0,1015.6C586.5,1008.3 590.0,999.4 593.6,992.7C597.2,986.1 600.9,979.4 602.7,975.5C604.5,971.6 602.8,970.8 604.5,969.5Z" fill="#eaecef" stroke="#a9afb8" stroke-width="1.3" stroke-linejoin="round"/>
<g clip-path="url(#c_bandA)"><path d="M604.5,969.5C606.2,968.2 610.1,967.8 613.0,967.8C615.9,967.8 620.3,968.2 622.0,969.5C623.7,970.8 623.6,969.8 623.3,975.5C623.0,981.2 623.2,994.4 619.9,1003.7C616.6,1012.9 610.0,1022.1 603.3,1031.1C596.7,1040.0 587.6,1049.3 579.9,1057.1C572.3,1065.0 565.0,1071.2 557.4,1078.3C549.9,1085.5 541.6,1092.7 534.5,1100.0C527.4,1107.3 520.5,1114.6 514.8,1122.1C509.2,1129.7 504.2,1137.3 500.6,1145.3C497.1,1153.3 495.1,1162.7 493.7,1170.2C492.2,1177.6 492.9,1184.5 492.0,1190.0C491.1,1195.5 489.7,1200.2 488.0,1203.0C486.3,1205.8 484.5,1207.5 482.0,1207.0C479.5,1206.5 475.6,1203.2 473.0,1200.0C470.4,1196.8 467.8,1193.6 466.5,1188.0C465.2,1182.4 464.0,1175.3 465.4,1166.5C466.8,1157.7 470.4,1145.6 475.0,1135.0C479.6,1124.4 486.4,1112.0 493.1,1102.8C499.7,1093.6 507.5,1087.4 515.0,1079.7C522.5,1072.0 530.5,1063.7 538.1,1056.6C545.6,1049.4 553.2,1043.6 560.4,1036.8C567.5,1029.9 575.4,1023.0 581.0,1015.6C586.5,1008.3 590.0,999.4 593.6,992.7C597.2,986.1 600.9,979.4 602.7,975.5C604.5,971.6 602.8,970.8 604.5,969.5Z" fill="none" stroke="#cdd2d8" stroke-width="4"/></g>
<circle cx="609.9" cy="986.9" r="11.2" fill="#f4f6f7" stroke="#c2c8cf" stroke-width="0.8"/><polygon points="612.3,987.1 619.2,989.3 619.5,987.2" fill="#e8ecee"/><polygon points="613.1,988.6 618.1,993.1 619.3,991.0" fill="#d3d9de"/><polygon points="611.0,988.8 612.7,994.5 614.6,993.5" fill="#ffffff"/><polygon points="610.2,991.6 608.4,996.3 611.2,996.3" fill="#d3d9de"/><polygon points="608.7,989.8 604.4,995.8 606.5,996.8" fill="#ffffff"/><polygon points="607.8,989.3 602.5,992.5 604.4,994.4" fill="#e8ecee"/><polygon points="607.4,987.4 600.5,986.8 600.9,989.6" fill="#c8cfd5"/><polygon points="605.9,986.8 600.8,984.7 600.6,987.4" fill="#ffffff"/><polygon points="607.3,984.9 604.2,980.3 602.6,982.2" fill="#ffffff"/><polygon points="608.4,984.6 607.1,979.0 604.8,980.3" fill="#d3d9de"/><polygon points="609.7,983.4 611.6,976.9 608.5,976.8" fill="#c8cfd5"/><polygon points="610.8,984.9 614.9,979.2 613.0,978.2" fill="#c8cfd5"/><polygon points="612.1,984.4 616.3,982.2 614.6,980.5" fill="#ffffff"/><polygon points="614.0,985.7 619.9,985.9 619.3,983.4" fill="#c8cfd5"/><circle cx="604.1" cy="983.0" r="0.7" fill="#9aa3ab"/><circle cx="615.1" cy="978.7" r="0.7" fill="#9aa3ab"/><circle cx="608.2" cy="984.1" r="0.9" fill="#9aa3ab"/><circle cx="603.9" cy="978.9" r="0.9" fill="#9aa3ab"/><circle cx="608.7" cy="992.4" r="0.8" fill="#9aa3ab"/><circle cx="616.0" cy="987.8" r="0.6" fill="#9aa3ab"/><circle cx="612.3" cy="989.1" r="0.9" fill="#9aa3ab"/><circle cx="613.1" cy="990.2" r="0.7" fill="#9aa3ab"/><circle cx="612.2" cy="984.5" r="0.7" fill="#9aa3ab"/><circle cx="609.9" cy="986.9" r="2.2" fill="#fdfdfd"/>
<circle cx="599.5" cy="1010.8" r="12.4" fill="#f4f6f7" stroke="#c2c8cf" stroke-width="0.8"/><polygon points="604.7,1011.2 608.2,1013.4 608.6,1010.6" fill="#d3d9de"/><polygon points="603.7,1013.0 607.4,1017.2 608.8,1014.9" fill="#d3d9de"/><polygon points="601.4,1013.9 603.1,1020.3 605.3,1019.2" fill="#ffffff"/><polygon points="599.9,1014.5 598.2,1021.7 601.6,1021.5" fill="#e8ecee"/><polygon points="597.8,1015.5 594.7,1019.4 596.8,1020.2" fill="#c8cfd5"/><polygon points="596.4,1014.4 591.6,1016.6 593.9,1018.9" fill="#d3d9de"/><polygon points="596.3,1011.6 588.8,1011.3 589.3,1014.3" fill="#bfc7cd"/><polygon points="596.7,1010.4 589.1,1006.8 588.4,1010.0" fill="#e8ecee"/><polygon points="596.7,1008.3 594.3,1003.1 592.0,1005.3" fill="#e8ecee"/><polygon points="597.4,1007.3 596.3,1001.3 593.7,1002.6" fill="#ffffff"/><polygon points="599.6,1008.2 601.7,1000.1 599.2,999.8" fill="#bfc7cd"/><polygon points="600.5,1007.6 604.7,1001.6 602.0,1000.5" fill="#e8ecee"/><polygon points="601.3,1008.8 607.7,1004.7 605.7,1002.7" fill="#d3d9de"/><polygon points="604.3,1009.8 610.9,1010.8 610.4,1007.6" fill="#c8cfd5"/><circle cx="599.6" cy="1014.0" r="0.7" fill="#9aa3ab"/><circle cx="598.8" cy="1017.3" r="0.7" fill="#9aa3ab"/><circle cx="604.7" cy="1001.9" r="0.6" fill="#9aa3ab"/><circle cx="596.0" cy="1013.5" r="0.8" fill="#9aa3ab"/><circle cx="604.2" cy="1010.1" r="0.9" fill="#9aa3ab"/><circle cx="598.5" cy="1013.8" r="0.9" fill="#9aa3ab"/><circle cx="597.1" cy="1014.5" r="0.7" fill="#9aa3ab"/><circle cx="600.2" cy="1017.2" r="0.7" fill="#9aa3ab"/><circle cx="592.7" cy="1014.7" r="0.6" fill="#9aa3ab"/><circle cx="599.5" cy="1010.8" r="2.5" fill="#fdfdfd"/>
<circle cx="581.2" cy="1035.2" r="13.1" fill="#f4f6f7" stroke="#c2c8cf" stroke-width="0.8"/><polygon points="584.7,1035.7 590.1,1038.7 590.8,1035.6" fill="#d3d9de"/><polygon points="584.5,1037.2 589.4,1042.6 591.0,1040.3" fill="#e8ecee"/><polygon points="583.3,1039.4 583.3,1044.7 586.4,1043.4" fill="#bfc7cd"/><polygon points="581.5,1038.1 580.6,1044.5 582.7,1044.4" fill="#ffffff"/><polygon points="579.1,1039.0 573.8,1044.2 576.4,1045.8" fill="#bfc7cd"/><polygon points="576.9,1038.4 572.4,1039.5 573.7,1041.5" fill="#ffffff"/><polygon points="578.7,1036.0 571.3,1036.7 571.9,1039.0" fill="#c8cfd5"/><polygon points="578.7,1034.9 570.2,1032.3 569.8,1034.7" fill="#ffffff"/><polygon points="578.0,1033.6 572.5,1029.0 571.3,1031.0" fill="#ffffff"/><polygon points="579.0,1030.6 577.6,1023.6 575.2,1024.6" fill="#ffffff"/><polygon points="580.9,1029.9 582.2,1025.4 580.1,1025.5" fill="#d3d9de"/><polygon points="582.6,1030.0 586.1,1025.6 583.1,1024.6" fill="#e8ecee"/><polygon points="584.2,1033.0 590.8,1031.1 589.1,1028.4" fill="#d3d9de"/><polygon points="584.0,1034.5 593.3,1035.0 592.7,1031.3" fill="#d3d9de"/><circle cx="588.7" cy="1037.9" r="0.8" fill="#9aa3ab"/><circle cx="584.5" cy="1039.7" r="1.0" fill="#9aa3ab"/><circle cx="585.5" cy="1035.1" r="0.9" fill="#9aa3ab"/><circle cx="586.2" cy="1033.6" r="0.8" fill="#9aa3ab"/><circle cx="587.4" cy="1036.9" r="0.8" fill="#9aa3ab"/><circle cx="572.9" cy="1029.9" r="0.5" fill="#9aa3ab"/><circle cx="575.1" cy="1043.9" r="0.8" fill="#9aa3ab"/><circle cx="574.8" cy="1037.2" r="1.0" fill="#9aa3ab"/><circle cx="578.1" cy="1033.7" r="0.9" fill="#9aa3ab"/><circle cx="581.2" cy="1035.2" r="2.6" fill="#fdfdfd"/>
<circle cx="559.0" cy="1057.2" r="13.4" fill="#f4f6f7" stroke="#c2c8cf" stroke-width="0.8"/><polygon points="562.8,1057.9 569.6,1061.0 570.2,1058.4" fill="#ffffff"/><polygon points="561.8,1059.1 567.8,1065.4 569.3,1063.3" fill="#ffffff"/><polygon points="560.8,1059.9 563.0,1069.0 566.8,1066.9" fill="#d3d9de"/><polygon points="559.3,1060.1 558.0,1067.7 560.8,1067.6" fill="#ffffff"/><polygon points="557.4,1060.8 552.1,1066.5 555.1,1068.1" fill="#e0e5e8"/><polygon points="555.2,1060.8 550.4,1062.6 552.2,1064.7" fill="#ffffff"/><polygon points="556.8,1058.2 549.4,1059.1 550.6,1062.2" fill="#c8cfd5"/><polygon points="554.1,1056.4 549.6,1053.5 548.9,1056.4" fill="#ffffff"/><polygon points="556.8,1055.8 551.3,1049.0 549.0,1051.9" fill="#e0e5e8"/><polygon points="556.7,1052.0 556.3,1047.4 554.3,1048.2" fill="#c8cfd5"/><polygon points="559.1,1052.6 561.8,1046.5 558.2,1046.1" fill="#e0e5e8"/><polygon points="560.9,1051.9 565.0,1046.4 562.3,1045.3" fill="#ffffff"/><polygon points="562.1,1054.8 570.0,1051.2 568.3,1048.8" fill="#c8cfd5"/><polygon points="562.6,1056.0 569.1,1055.8 568.4,1053.3" fill="#e8ecee"/><circle cx="548.2" cy="1055.7" r="0.6" fill="#9aa3ab"/><circle cx="556.0" cy="1065.8" r="1.0" fill="#9aa3ab"/><circle cx="561.2" cy="1061.5" r="0.9" fill="#9aa3ab"/><circle cx="556.5" cy="1061.9" r="0.8" fill="#9aa3ab"/><circle cx="569.7" cy="1060.2" r="0.6" fill="#9aa3ab"/><circle cx="558.5" cy="1064.1" r="0.6" fill="#9aa3ab"/><circle cx="565.7" cy="1053.5" r="0.9" fill="#9aa3ab"/><circle cx="558.0" cy="1045.3" r="0.6" fill="#9aa3ab"/><circle cx="551.3" cy="1058.0" r="0.6" fill="#9aa3ab"/><circle cx="559.0" cy="1057.2" r="2.7" fill="#fdfdfd"/>
<circle cx="536.3" cy="1078.7" r="13.6" fill="#f4f6f7" stroke="#c2c8cf" stroke-width="0.8"/><polygon points="540.6,1079.3 548.2,1082.8 548.8,1079.4" fill="#e8ecee"/><polygon points="538.7,1080.7 543.8,1088.2 546.1,1085.8" fill="#e8ecee"/><polygon points="537.5,1081.2 539.2,1088.8 541.3,1087.9" fill="#ffffff"/><polygon points="536.1,1083.3 533.7,1089.9 536.7,1090.2" fill="#ffffff"/><polygon points="534.4,1082.8 530.9,1087.1 532.8,1088.1" fill="#e8ecee"/><polygon points="534.7,1080.7 526.6,1086.4 529.2,1088.9" fill="#ffffff"/><polygon points="532.5,1079.9 524.1,1080.0 525.0,1083.4" fill="#bfc7cd"/><polygon points="533.8,1078.5 527.0,1075.8 526.5,1078.7" fill="#ffffff"/><polygon points="532.0,1074.7 529.4,1068.6 526.6,1071.2" fill="#c8cfd5"/><polygon points="534.5,1074.9 534.0,1069.4 531.5,1070.4" fill="#d3d9de"/><polygon points="535.7,1073.4 537.8,1068.0 534.1,1068.1" fill="#ffffff"/><polygon points="537.6,1075.8 543.2,1068.2 540.8,1067.0" fill="#ffffff"/><polygon points="539.4,1076.5 545.3,1075.0 543.8,1072.5" fill="#ffffff"/><polygon points="539.8,1077.8 546.8,1077.7 546.3,1075.5" fill="#ffffff"/><circle cx="536.5" cy="1074.3" r="0.6" fill="#9aa3ab"/><circle cx="539.5" cy="1081.0" r="0.9" fill="#9aa3ab"/><circle cx="540.0" cy="1086.2" r="0.7" fill="#9aa3ab"/><circle cx="539.9" cy="1087.9" r="0.6" fill="#9aa3ab"/><circle cx="533.6" cy="1075.2" r="0.7" fill="#9aa3ab"/><circle cx="537.6" cy="1084.3" r="1.0" fill="#9aa3ab"/><circle cx="538.3" cy="1073.0" r="0.9" fill="#9aa3ab"/><circle cx="538.0" cy="1085.4" r="0.9" fill="#9aa3ab"/><circle cx="533.6" cy="1075.4" r="1.0" fill="#9aa3ab"/><circle cx="536.3" cy="1078.7" r="2.7" fill="#fdfdfd"/>
<circle cx="514.4" cy="1101.2" r="13.9" fill="#f4f6f7" stroke="#c2c8cf" stroke-width="0.8"/><polygon points="519.1,1101.9 525.8,1104.8 526.3,1102.1" fill="#d3d9de"/><polygon points="517.5,1104.0 521.4,1110.8 523.7,1108.6" fill="#ffffff"/><polygon points="516.5,1105.1 518.2,1112.5 520.7,1111.3" fill="#ffffff"/><polygon points="514.8,1104.9 513.4,1111.6 516.4,1111.4" fill="#e0e5e8"/><polygon points="513.2,1105.9 509.8,1111.0 512.6,1111.9" fill="#ffffff"/><polygon points="510.7,1105.6 504.5,1108.8 507.2,1111.4" fill="#e0e5e8"/><polygon points="509.0,1103.6 501.9,1104.5 503.0,1107.2" fill="#ffffff"/><polygon points="510.2,1099.9 503.3,1095.2 502.0,1098.6" fill="#bfc7cd"/><polygon points="511.1,1098.3 507.1,1092.4 505.3,1094.3" fill="#e8ecee"/><polygon points="512.0,1097.3 510.4,1090.6 507.8,1092.0" fill="#d3d9de"/><polygon points="514.3,1098.4 516.4,1091.0 513.1,1090.9" fill="#c8cfd5"/><polygon points="515.6,1097.6 520.7,1090.9 517.3,1089.5" fill="#d3d9de"/><polygon points="516.9,1098.5 523.4,1094.9 521.2,1092.6" fill="#ffffff"/><polygon points="516.9,1100.4 526.8,1099.9 526.0,1096.6" fill="#e8ecee"/><circle cx="523.9" cy="1102.7" r="0.5" fill="#9aa3ab"/><circle cx="516.9" cy="1109.8" r="0.9" fill="#9aa3ab"/><circle cx="515.2" cy="1105.3" r="0.6" fill="#9aa3ab"/><circle cx="507.1" cy="1104.4" r="0.8" fill="#9aa3ab"/><circle cx="513.2" cy="1093.2" r="0.7" fill="#9aa3ab"/><circle cx="510.3" cy="1107.6" r="0.8" fill="#9aa3ab"/><circle cx="517.9" cy="1096.8" r="1.0" fill="#9aa3ab"/><circle cx="506.2" cy="1103.1" r="0.6" fill="#9aa3ab"/><circle cx="515.0" cy="1095.8" r="0.8" fill="#9aa3ab"/><circle cx="514.4" cy="1101.2" r="2.8" fill="#fdfdfd"/>
<circle cx="495.9" cy="1126.3" r="14.3" fill="#f4f6f7" stroke="#c2c8cf" stroke-width="0.8"/><polygon points="500.9,1126.7 507.7,1130.1 508.3,1126.1" fill="#e0e5e8"/><polygon points="499.9,1129.3 504.4,1136.1 506.9,1133.2" fill="#e0e5e8"/><polygon points="498.6,1129.9 500.6,1136.0 502.9,1134.5" fill="#ffffff"/><polygon points="496.8,1131.2 495.1,1139.7 499.7,1139.2" fill="#ffffff"/><polygon points="494.4,1131.8 489.8,1137.5 493.7,1138.9" fill="#ffffff"/><polygon points="492.9,1129.2 486.8,1131.6 489.0,1134.2" fill="#c8cfd5"/><polygon points="491.7,1127.1 483.3,1126.1 483.8,1129.7" fill="#ffffff"/><polygon points="490.3,1125.2 484.7,1121.4 483.8,1124.9" fill="#c8cfd5"/><polygon points="491.7,1122.8 487.7,1115.7 484.9,1118.7" fill="#e8ecee"/><polygon points="493.0,1120.9 492.9,1115.2 489.6,1116.7" fill="#e8ecee"/><polygon points="495.3,1123.0 495.9,1114.5 493.1,1114.8" fill="#ffffff"/><polygon points="497.0,1122.9 502.3,1114.9 498.7,1113.6" fill="#e8ecee"/><polygon points="498.2,1123.8 504.5,1119.9 502.5,1117.9" fill="#d3d9de"/><polygon points="500.5,1124.8 507.3,1124.3 506.7,1122.0" fill="#ffffff"/><circle cx="499.5" cy="1124.7" r="0.6" fill="#9aa3ab"/><circle cx="499.8" cy="1115.6" r="0.8" fill="#9aa3ab"/><circle cx="499.9" cy="1132.6" r="0.9" fill="#9aa3ab"/><circle cx="504.2" cy="1119.1" r="0.6" fill="#9aa3ab"/><circle cx="500.2" cy="1120.7" r="0.9" fill="#9aa3ab"/><circle cx="504.1" cy="1135.9" r="0.8" fill="#9aa3ab"/><circle cx="495.0" cy="1120.8" r="0.8" fill="#9aa3ab"/><circle cx="488.0" cy="1121.9" r="0.7" fill="#9aa3ab"/><circle cx="495.0" cy="1119.6" r="0.6" fill="#9aa3ab"/><circle cx="495.9" cy="1126.3" r="2.9" fill="#fdfdfd"/>
<circle cx="483.6" cy="1154.5" r="14.6" fill="#f4f6f7" stroke="#c2c8cf" stroke-width="0.8"/><polygon points="488.8,1154.7 495.6,1157.9 496.1,1153.7" fill="#c8cfd5"/><polygon points="486.5,1156.8 490.4,1162.5 492.3,1160.3" fill="#ffffff"/><polygon points="485.4,1158.1 487.5,1166.8 490.2,1165.7" fill="#e0e5e8"/><polygon points="483.5,1158.3 480.7,1167.2 484.1,1167.5" fill="#bfc7cd"/><polygon points="482.3,1157.4 476.4,1164.3 479.7,1166.0" fill="#e0e5e8"/><polygon points="481.8,1156.7 474.5,1162.8 476.5,1164.5" fill="#c8cfd5"/><polygon points="477.9,1156.8 472.1,1156.1 473.3,1159.9" fill="#ffffff"/><polygon points="480.7,1153.7 472.7,1148.4 471.3,1152.3" fill="#e8ecee"/><polygon points="479.6,1151.6 475.9,1146.8 474.4,1148.7" fill="#ffffff"/><polygon points="481.0,1150.1 480.1,1143.9 477.2,1145.4" fill="#ffffff"/><polygon points="483.7,1150.0 486.2,1144.2 482.8,1144.0" fill="#d3d9de"/><polygon points="484.5,1151.6 488.8,1145.0 486.1,1144.0" fill="#bfc7cd"/><polygon points="485.8,1152.5 493.9,1148.6 491.7,1145.7" fill="#e8ecee"/><polygon points="487.2,1153.3 495.3,1152.8 494.5,1149.8" fill="#ffffff"/><circle cx="490.3" cy="1159.1" r="0.6" fill="#9aa3ab"/><circle cx="491.9" cy="1145.1" r="0.5" fill="#9aa3ab"/><circle cx="490.0" cy="1162.6" r="0.8" fill="#9aa3ab"/><circle cx="493.9" cy="1155.7" r="1.0" fill="#9aa3ab"/><circle cx="477.4" cy="1157.7" r="0.8" fill="#9aa3ab"/><circle cx="489.3" cy="1152.2" r="0.7" fill="#9aa3ab"/><circle cx="487.2" cy="1163.4" r="0.7" fill="#9aa3ab"/><circle cx="483.3" cy="1161.8" r="0.5" fill="#9aa3ab"/><circle cx="478.6" cy="1166.5" r="0.8" fill="#9aa3ab"/><circle cx="483.6" cy="1154.5" r="2.9" fill="#fdfdfd"/>
<circle cx="478.8" cy="1180.5" r="13.8" fill="#f4f6f7" stroke="#c2c8cf" stroke-width="0.8"/><polygon points="481.2,1181.2 489.7,1185.8 490.6,1183.2" fill="#e0e5e8"/><polygon points="483.8,1182.9 488.0,1188.1 490.0,1184.7" fill="#c8cfd5"/><polygon points="480.9,1183.5 483.7,1191.4 486.3,1189.9" fill="#c8cfd5"/><polygon points="479.5,1186.2 478.1,1190.8 480.8,1190.6" fill="#c8cfd5"/><polygon points="477.2,1185.9 473.7,1190.7 476.3,1191.6" fill="#ffffff"/><polygon points="475.5,1183.0 468.6,1185.0 470.5,1188.0" fill="#ffffff"/><polygon points="473.3,1182.1 467.0,1181.5 467.7,1184.6" fill="#ffffff"/><polygon points="476.2,1179.8 467.4,1174.6 466.1,1178.6" fill="#e0e5e8"/><polygon points="476.1,1179.0 469.1,1172.2 467.1,1175.5" fill="#bfc7cd"/><polygon points="476.1,1177.1 474.5,1171.3 471.8,1173.1" fill="#d3d9de"/><polygon points="478.5,1177.8 480.4,1168.5 476.4,1168.7" fill="#c8cfd5"/><polygon points="480.2,1176.5 484.5,1172.0 481.3,1170.6" fill="#c8cfd5"/><polygon points="481.1,1177.8 486.9,1174.2 484.7,1172.1" fill="#ffffff"/><polygon points="482.4,1179.9 489.9,1180.3 489.6,1177.9" fill="#ffffff"/><circle cx="481.0" cy="1173.1" r="0.6" fill="#9aa3ab"/><circle cx="472.0" cy="1180.8" r="0.9" fill="#9aa3ab"/><circle cx="487.9" cy="1176.1" r="0.6" fill="#9aa3ab"/><circle cx="489.9" cy="1183.4" r="1.0" fill="#9aa3ab"/><circle cx="483.1" cy="1187.2" r="0.7" fill="#9aa3ab"/><circle cx="482.6" cy="1179.9" r="0.5" fill="#9aa3ab"/><circle cx="483.6" cy="1173.4" r="0.7" fill="#9aa3ab"/><circle cx="480.3" cy="1171.9" r="0.8" fill="#9aa3ab"/><circle cx="478.7" cy="1184.7" r="0.5" fill="#9aa3ab"/><circle cx="478.8" cy="1180.5" r="2.8" fill="#fdfdfd"/>
<circle cx="606.5" cy="975.5" r="2.9" fill="#dfe3e8" stroke="#a9b0b9" stroke-width="0.9"/><circle cx="606.0" cy="975.0" r="1.2" fill="#f6f7f9"/>
<circle cx="619.5" cy="975.5" r="2.9" fill="#dfe3e8" stroke="#a9b0b9" stroke-width="0.9"/><circle cx="619.0" cy="975.0" r="1.2" fill="#f6f7f9"/>
<circle cx="597.1" cy="994.2" r="2.9" fill="#dfe3e8" stroke="#a9b0b9" stroke-width="0.9"/><circle cx="596.6" cy="993.7" r="1.2" fill="#f6f7f9"/>
<circle cx="616.4" cy="1002.2" r="2.9" fill="#dfe3e8" stroke="#a9b0b9" stroke-width="0.9"/><circle cx="615.9" cy="1001.7" r="1.2" fill="#f6f7f9"/>
<circle cx="584.1" cy="1017.8" r="2.9" fill="#dfe3e8" stroke="#a9b0b9" stroke-width="0.9"/><circle cx="583.6" cy="1017.3" r="1.2" fill="#f6f7f9"/>
<circle cx="600.2" cy="1028.9" r="2.9" fill="#dfe3e8" stroke="#a9b0b9" stroke-width="0.9"/><circle cx="599.7" cy="1028.4" r="1.2" fill="#f6f7f9"/>
<circle cx="563.0" cy="1039.5" r="2.9" fill="#dfe3e8" stroke="#a9b0b9" stroke-width="0.9"/><circle cx="562.5" cy="1039.0" r="1.2" fill="#f6f7f9"/>
<circle cx="577.3" cy="1054.4" r="2.9" fill="#dfe3e8" stroke="#a9b0b9" stroke-width="0.9"/><circle cx="576.8" cy="1053.9" r="1.2" fill="#f6f7f9"/>
<circle cx="540.6" cy="1059.4" r="2.9" fill="#dfe3e8" stroke="#a9b0b9" stroke-width="0.9"/><circle cx="540.1" cy="1058.9" r="1.2" fill="#f6f7f9"/>
<circle cx="554.9" cy="1075.5" r="2.9" fill="#dfe3e8" stroke="#a9b0b9" stroke-width="0.9"/><circle cx="554.4" cy="1075.0" r="1.2" fill="#f6f7f9"/>
<circle cx="517.6" cy="1082.4" r="2.9" fill="#dfe3e8" stroke="#a9b0b9" stroke-width="0.9"/><circle cx="517.1" cy="1081.9" r="1.2" fill="#f6f7f9"/>
<circle cx="531.9" cy="1097.3" r="2.9" fill="#dfe3e8" stroke="#a9b0b9" stroke-width="0.9"/><circle cx="531.4" cy="1096.8" r="1.2" fill="#f6f7f9"/>
<circle cx="495.9" cy="1105.3" r="2.9" fill="#dfe3e8" stroke="#a9b0b9" stroke-width="0.9"/><circle cx="495.4" cy="1104.8" r="1.2" fill="#f6f7f9"/>
<circle cx="512.0" cy="1119.6" r="2.9" fill="#dfe3e8" stroke="#a9b0b9" stroke-width="0.9"/><circle cx="511.5" cy="1119.1" r="1.2" fill="#f6f7f9"/>
<circle cx="478.5" cy="1136.4" r="2.9" fill="#dfe3e8" stroke="#a9b0b9" stroke-width="0.9"/><circle cx="478.0" cy="1135.9" r="1.2" fill="#f6f7f9"/>
<circle cx="497.1" cy="1143.9" r="2.9" fill="#dfe3e8" stroke="#a9b0b9" stroke-width="0.9"/><circle cx="496.6" cy="1143.4" r="1.2" fill="#f6f7f9"/>
<circle cx="469.2" cy="1167.0" r="2.9" fill="#dfe3e8" stroke="#a9b0b9" stroke-width="0.9"/><circle cx="468.7" cy="1166.5" r="1.2" fill="#f6f7f9"/>
<circle cx="489.9" cy="1169.7" r="2.9" fill="#dfe3e8" stroke="#a9b0b9" stroke-width="0.9"/><circle cx="489.4" cy="1169.2" r="1.2" fill="#f6f7f9"/>
<circle cx="479.0" cy="1193.4" r="2.9" fill="#dfe3e8" stroke="#a9b0b9" stroke-width="0.9"/><circle cx="478.5" cy="1192.9" r="1.2" fill="#f6f7f9"/>
</g>
<g id="bandB">
<path d="M616.0,1029.5C617.7,1028.0 621.8,1027.0 625.0,1026.5C628.2,1026.0 633.3,1025.7 635.5,1026.5C637.7,1027.3 637.9,1024.4 638.1,1031.1C638.4,1037.9 640.8,1054.6 637.0,1067.0C633.2,1079.5 623.7,1095.0 615.4,1105.8C607.1,1116.6 596.6,1124.2 587.2,1131.8C577.8,1139.4 567.5,1144.6 559.3,1151.3C551.1,1158.0 544.5,1165.0 537.9,1172.0C531.3,1179.1 524.0,1185.8 519.9,1193.5C515.8,1201.3 514.2,1209.6 513.4,1218.3C512.6,1227.1 514.9,1239.5 515.2,1245.9C515.4,1252.4 515.9,1253.7 515.0,1257.0C514.1,1260.3 512.3,1265.0 510.0,1265.5C507.7,1266.0 504.0,1262.7 501.0,1260.0C498.0,1257.3 495.0,1257.0 492.1,1249.5C489.3,1242.0 483.8,1226.3 484.0,1215.0C484.2,1203.7 488.2,1192.2 493.3,1181.8C498.4,1171.4 506.4,1161.5 514.7,1152.6C523.0,1143.6 533.8,1135.5 543.0,1128.1C552.3,1120.6 561.5,1114.9 570.1,1107.8C578.7,1100.7 587.5,1093.9 594.5,1085.7C601.4,1077.4 608.3,1066.7 611.7,1058.4C615.1,1050.0 614.0,1040.2 614.8,1035.4C615.5,1030.6 614.3,1031.0 616.0,1029.5Z" fill="#eaecef" stroke="#a9afb8" stroke-width="1.3" stroke-linejoin="round"/>
<g clip-path="url(#c_bandB)"><path d="M616.0,1029.5C617.7,1028.0 621.8,1027.0 625.0,1026.5C628.2,1026.0 633.3,1025.7 635.5,1026.5C637.7,1027.3 637.9,1024.4 638.1,1031.1C638.4,1037.9 640.8,1054.6 637.0,1067.0C633.2,1079.5 623.7,1095.0 615.4,1105.8C607.1,1116.6 596.6,1124.2 587.2,1131.8C577.8,1139.4 567.5,1144.6 559.3,1151.3C551.1,1158.0 544.5,1165.0 537.9,1172.0C531.3,1179.1 524.0,1185.8 519.9,1193.5C515.8,1201.3 514.2,1209.6 513.4,1218.3C512.6,1227.1 514.9,1239.5 515.2,1245.9C515.4,1252.4 515.9,1253.7 515.0,1257.0C514.1,1260.3 512.3,1265.0 510.0,1265.5C507.7,1266.0 504.0,1262.7 501.0,1260.0C498.0,1257.3 495.0,1257.0 492.1,1249.5C489.3,1242.0 483.8,1226.3 484.0,1215.0C484.2,1203.7 488.2,1192.2 493.3,1181.8C498.4,1171.4 506.4,1161.5 514.7,1152.6C523.0,1143.6 533.8,1135.5 543.0,1128.1C552.3,1120.6 561.5,1114.9 570.1,1107.8C578.7,1100.7 587.5,1093.9 594.5,1085.7C601.4,1077.4 608.3,1066.7 611.7,1058.4C615.1,1050.0 614.0,1040.2 614.8,1035.4C615.5,1030.6 614.3,1031.0 616.0,1029.5Z" fill="none" stroke="#cdd2d8" stroke-width="4"/></g>
<circle cx="625.4" cy="1048.0" r="12.2" fill="#f4f6f7" stroke="#c2c8cf" stroke-width="0.8"/><polygon points="627.9,1048.0 634.9,1050.1 635.1,1047.2" fill="#e0e5e8"/><polygon points="628.2,1050.6 632.0,1056.3 633.7,1054.6" fill="#bfc7cd"/><polygon points="626.9,1049.9 629.3,1056.3 631.7,1054.7" fill="#e8ecee"/><polygon points="625.9,1053.2 624.9,1056.8 626.8,1056.7" fill="#ffffff"/><polygon points="624.5,1050.7 620.4,1056.3 623.1,1057.4" fill="#e0e5e8"/><polygon points="623.5,1050.1 617.1,1054.0 619.2,1056.1" fill="#d3d9de"/><polygon points="622.2,1048.6 616.3,1047.7 616.6,1050.6" fill="#ffffff"/><polygon points="621.0,1048.0 614.6,1045.5 614.4,1048.9" fill="#e0e5e8"/><polygon points="622.3,1046.3 618.0,1041.8 616.7,1043.9" fill="#ffffff"/><polygon points="624.1,1046.1 621.5,1039.3 619.4,1040.6" fill="#ffffff"/><polygon points="625.1,1043.8 626.3,1038.6 624.0,1038.6" fill="#bfc7cd"/><polygon points="627.7,1044.0 631.4,1040.7 629.6,1039.5" fill="#e8ecee"/><polygon points="629.3,1045.3 633.9,1043.9 632.7,1042.1" fill="#d3d9de"/><polygon points="629.4,1047.3 636.0,1047.9 635.7,1045.5" fill="#ffffff"/><circle cx="624.2" cy="1053.3" r="0.9" fill="#9aa3ab"/><circle cx="628.4" cy="1045.4" r="0.6" fill="#9aa3ab"/><circle cx="622.3" cy="1053.4" r="0.5" fill="#9aa3ab"/><circle cx="624.2" cy="1043.0" r="0.9" fill="#9aa3ab"/><circle cx="618.5" cy="1039.9" r="0.6" fill="#9aa3ab"/><circle cx="631.1" cy="1057.3" r="0.6" fill="#9aa3ab"/><circle cx="632.8" cy="1050.8" r="0.8" fill="#9aa3ab"/><circle cx="632.3" cy="1039.7" r="0.7" fill="#9aa3ab"/><circle cx="617.1" cy="1042.7" r="0.7" fill="#9aa3ab"/><circle cx="625.4" cy="1048.0" r="2.4" fill="#fdfdfd"/>
<circle cx="614.7" cy="1079.2" r="13.6" fill="#f4f6f7" stroke="#c2c8cf" stroke-width="0.8"/><polygon points="617.9,1079.3 624.8,1081.9 625.2,1078.4" fill="#ffffff"/><polygon points="617.0,1080.3 623.2,1085.5 624.5,1083.2" fill="#d3d9de"/><polygon points="617.5,1084.1 618.7,1090.9 621.6,1089.5" fill="#d3d9de"/><polygon points="615.0,1084.3 613.2,1090.3 616.3,1090.3" fill="#ffffff"/><polygon points="612.3,1083.9 607.1,1089.3 609.7,1090.8" fill="#d3d9de"/><polygon points="612.9,1081.0 605.3,1085.3 607.6,1087.9" fill="#ffffff"/><polygon points="612.3,1080.3 605.4,1081.7 606.3,1084.0" fill="#e0e5e8"/><polygon points="609.8,1078.5 604.2,1075.4 603.6,1078.5" fill="#ffffff"/><polygon points="611.3,1076.5 607.6,1070.3 605.2,1073.0" fill="#e8ecee"/><polygon points="612.8,1076.3 611.2,1070.1 608.6,1071.6" fill="#ffffff"/><polygon points="615.0,1075.3 617.3,1069.8 614.6,1069.5" fill="#ffffff"/><polygon points="615.5,1076.3 621.0,1068.1 617.0,1066.7" fill="#e0e5e8"/><polygon points="616.7,1077.5 623.9,1074.1 622.2,1071.9" fill="#e0e5e8"/><polygon points="618.7,1078.1 625.8,1078.4 625.2,1075.3" fill="#c8cfd5"/><circle cx="622.1" cy="1076.9" r="1.0" fill="#9aa3ab"/><circle cx="620.5" cy="1072.5" r="0.8" fill="#9aa3ab"/><circle cx="609.3" cy="1078.9" r="0.7" fill="#9aa3ab"/><circle cx="613.8" cy="1074.1" r="0.9" fill="#9aa3ab"/><circle cx="606.0" cy="1078.7" r="0.9" fill="#9aa3ab"/><circle cx="611.9" cy="1075.5" r="0.6" fill="#9aa3ab"/><circle cx="618.3" cy="1079.2" r="1.0" fill="#9aa3ab"/><circle cx="604.7" cy="1072.6" r="0.9" fill="#9aa3ab"/><circle cx="609.9" cy="1090.1" r="1.0" fill="#9aa3ab"/><circle cx="614.7" cy="1079.2" r="2.7" fill="#fdfdfd"/>
<circle cx="591.8" cy="1107.8" r="14.0" fill="#f4f6f7" stroke="#c2c8cf" stroke-width="0.8"/><polygon points="596.5,1108.6 603.6,1112.1 604.3,1109.1" fill="#bfc7cd"/><polygon points="595.1,1110.7 598.4,1117.3 601.3,1114.5" fill="#e8ecee"/><polygon points="593.2,1111.2 594.1,1119.7 597.3,1118.6" fill="#c8cfd5"/><polygon points="591.5,1112.5 589.2,1118.3 591.9,1118.6" fill="#ffffff"/><polygon points="589.4,1112.3 583.5,1117.4 586.8,1119.5" fill="#ffffff"/><polygon points="587.2,1111.3 581.2,1112.6 583.1,1115.6" fill="#d3d9de"/><polygon points="588.2,1108.5 579.0,1107.0 579.5,1111.4" fill="#d3d9de"/><polygon points="588.9,1107.1 581.8,1103.6 581.1,1106.1" fill="#c8cfd5"/><polygon points="588.6,1105.9 583.0,1099.6 581.1,1102.4" fill="#ffffff"/><polygon points="590.1,1105.4 588.1,1098.6 585.3,1100.3" fill="#bfc7cd"/><polygon points="591.7,1102.3 593.2,1097.9 591.0,1097.8" fill="#ffffff"/><polygon points="592.7,1105.2 596.8,1098.3 594.5,1097.4" fill="#e0e5e8"/><polygon points="594.8,1105.3 602.4,1102.5 600.1,1099.4" fill="#e8ecee"/><polygon points="596.9,1106.3 602.5,1106.4 602.0,1104.1" fill="#ffffff"/><circle cx="584.2" cy="1114.9" r="0.7" fill="#9aa3ab"/><circle cx="589.0" cy="1102.8" r="1.0" fill="#9aa3ab"/><circle cx="585.1" cy="1100.3" r="0.9" fill="#9aa3ab"/><circle cx="598.1" cy="1098.4" r="1.0" fill="#9aa3ab"/><circle cx="590.8" cy="1100.0" r="0.8" fill="#9aa3ab"/><circle cx="600.8" cy="1099.9" r="0.6" fill="#9aa3ab"/><circle cx="589.6" cy="1119.7" r="0.7" fill="#9aa3ab"/><circle cx="582.8" cy="1109.4" r="0.9" fill="#9aa3ab"/><circle cx="583.9" cy="1114.5" r="0.7" fill="#9aa3ab"/><circle cx="591.8" cy="1107.8" r="2.8" fill="#fdfdfd"/>
<circle cx="564.9" cy="1129.8" r="14.2" fill="#f4f6f7" stroke="#c2c8cf" stroke-width="0.8"/><polygon points="569.5,1130.5 576.7,1134.8 577.7,1130.6" fill="#ffffff"/><polygon points="569.9,1132.9 573.3,1137.5 575.0,1135.1" fill="#d3d9de"/><polygon points="567.5,1134.6 568.1,1139.6 570.5,1138.4" fill="#d3d9de"/><polygon points="564.9,1135.0 563.2,1139.9 565.5,1140.0" fill="#c8cfd5"/><polygon points="562.7,1134.4 558.9,1138.0 561.2,1139.3" fill="#e0e5e8"/><polygon points="561.3,1133.0 555.5,1135.4 557.2,1137.6" fill="#e0e5e8"/><polygon points="561.9,1130.8 554.6,1130.7 555.3,1133.9" fill="#e8ecee"/><polygon points="561.5,1129.4 552.9,1125.6 552.2,1129.2" fill="#bfc7cd"/><polygon points="561.2,1127.9 556.1,1122.7 554.4,1125.5" fill="#e0e5e8"/><polygon points="563.2,1126.2 561.8,1117.6 558.8,1118.8" fill="#ffffff"/><polygon points="565.1,1125.4 568.0,1117.4 564.5,1117.0" fill="#ffffff"/><polygon points="566.0,1127.0 570.5,1120.4 568.0,1119.4" fill="#c8cfd5"/><polygon points="568.9,1125.6 574.6,1123.2 572.3,1120.7" fill="#c8cfd5"/><polygon points="568.1,1128.7 577.9,1127.9 577.0,1124.7" fill="#e8ecee"/><circle cx="573.8" cy="1124.8" r="0.7" fill="#9aa3ab"/><circle cx="564.5" cy="1118.6" r="0.7" fill="#9aa3ab"/><circle cx="568.5" cy="1131.5" r="0.7" fill="#9aa3ab"/><circle cx="567.3" cy="1134.5" r="0.7" fill="#9aa3ab"/><circle cx="555.3" cy="1130.9" r="0.5" fill="#9aa3ab"/><circle cx="562.8" cy="1120.6" r="0.8" fill="#9aa3ab"/><circle cx="566.1" cy="1124.9" r="0.6" fill="#9aa3ab"/><circle cx="564.6" cy="1134.1" r="0.8" fill="#9aa3ab"/><circle cx="560.2" cy="1131.0" r="0.8" fill="#9aa3ab"/><circle cx="564.9" cy="1129.8" r="2.8" fill="#fdfdfd"/>
<circle cx="538.7" cy="1151.0" r="14.4" fill="#f4f6f7" stroke="#c2c8cf" stroke-width="0.8"/><polygon points="543.9,1151.9 550.4,1155.9 551.3,1151.9" fill="#c8cfd5"/><polygon points="541.6,1152.9 546.0,1158.2 547.7,1155.9" fill="#ffffff"/><polygon points="540.1,1154.3 540.6,1162.2 544.0,1161.0" fill="#e8ecee"/><polygon points="538.5,1153.9 536.1,1160.8 539.0,1161.1" fill="#d3d9de"/><polygon points="537.0,1154.6 532.5,1159.0 535.2,1160.5" fill="#d3d9de"/><polygon points="534.9,1155.8 530.8,1157.7 532.8,1159.5" fill="#e8ecee"/><polygon points="533.6,1153.3 528.7,1153.7 529.6,1155.9" fill="#d3d9de"/><polygon points="535.7,1150.4 527.1,1146.1 526.2,1149.4" fill="#ffffff"/><polygon points="535.4,1148.7 530.5,1143.0 528.8,1145.3" fill="#e8ecee"/><polygon points="536.9,1147.2 535.3,1139.5 532.9,1140.5" fill="#ffffff"/><polygon points="538.8,1146.0 540.9,1139.2 538.2,1139.0" fill="#ffffff"/><polygon points="539.8,1147.9 544.1,1141.0 541.9,1140.0" fill="#e8ecee"/><polygon points="541.4,1148.8 549.2,1145.1 547.6,1142.8" fill="#bfc7cd"/><polygon points="541.4,1149.8 550.7,1147.6 549.8,1145.2" fill="#bfc7cd"/><circle cx="546.0" cy="1145.2" r="0.5" fill="#9aa3ab"/><circle cx="527.6" cy="1153.4" r="0.6" fill="#9aa3ab"/><circle cx="538.8" cy="1144.7" r="0.7" fill="#9aa3ab"/><circle cx="535.4" cy="1153.5" r="0.7" fill="#9aa3ab"/><circle cx="529.4" cy="1149.7" r="0.8" fill="#9aa3ab"/><circle cx="543.2" cy="1159.1" r="0.6" fill="#9aa3ab"/><circle cx="542.4" cy="1148.3" r="0.9" fill="#9aa3ab"/><circle cx="546.3" cy="1155.5" r="0.7" fill="#9aa3ab"/><circle cx="529.0" cy="1153.5" r="0.9" fill="#9aa3ab"/><circle cx="538.7" cy="1151.0" r="2.9" fill="#fdfdfd"/>
<circle cx="516.5" cy="1175.0" r="15.0" fill="#f4f6f7" stroke="#c2c8cf" stroke-width="0.8"/><polygon points="522.9,1175.6 529.7,1179.7 530.5,1175.0" fill="#ffffff"/><polygon points="519.1,1176.5 525.9,1182.9 527.5,1180.5" fill="#c8cfd5"/><polygon points="518.4,1178.9 519.6,1187.1 522.9,1185.8" fill="#e8ecee"/><polygon points="517.0,1179.5 515.0,1186.8 518.8,1186.7" fill="#ffffff"/><polygon points="514.5,1178.7 509.5,1183.4 512.1,1185.0" fill="#ffffff"/><polygon points="514.0,1177.8 506.6,1182.2 509.1,1184.8" fill="#bfc7cd"/><polygon points="513.2,1175.6 503.9,1174.9 504.3,1178.2" fill="#ffffff"/><polygon points="510.5,1174.8 504.8,1172.3 504.5,1175.4" fill="#e0e5e8"/><polygon points="511.8,1171.0 508.7,1164.4 505.8,1167.4" fill="#c8cfd5"/><polygon points="514.8,1171.8 513.2,1163.1 509.8,1164.7" fill="#c8cfd5"/><polygon points="516.0,1169.6 517.7,1161.5 514.3,1161.6" fill="#e8ecee"/><polygon points="517.3,1172.2 521.6,1164.8 518.8,1163.9" fill="#bfc7cd"/><polygon points="520.2,1171.6 526.4,1168.7 524.7,1166.6" fill="#e8ecee"/><polygon points="520.1,1174.4 527.4,1175.3 527.0,1172.4" fill="#e0e5e8"/><circle cx="513.8" cy="1168.3" r="0.6" fill="#9aa3ab"/><circle cx="523.8" cy="1183.9" r="0.8" fill="#9aa3ab"/><circle cx="527.3" cy="1181.4" r="0.6" fill="#9aa3ab"/><circle cx="515.8" cy="1178.7" r="0.7" fill="#9aa3ab"/><circle cx="504.9" cy="1170.4" r="0.6" fill="#9aa3ab"/><circle cx="512.0" cy="1175.1" r="0.8" fill="#9aa3ab"/><circle cx="514.2" cy="1182.0" r="0.6" fill="#9aa3ab"/><circle cx="522.0" cy="1162.9" r="0.6" fill="#9aa3ab"/><circle cx="511.9" cy="1176.4" r="0.9" fill="#9aa3ab"/><circle cx="516.5" cy="1175.0" r="3.0" fill="#fdfdfd"/>
<circle cx="502.7" cy="1202.2" r="15.2" fill="#f4f6f7" stroke="#c2c8cf" stroke-width="0.8"/><polygon points="505.7,1202.8 514.4,1207.7 515.5,1203.6" fill="#ffffff"/><polygon points="505.0,1203.9 512.3,1212.7 514.7,1209.8" fill="#ffffff"/><polygon points="505.9,1206.5 508.4,1213.7 511.1,1211.9" fill="#ffffff"/><polygon points="502.4,1206.5 499.4,1212.9 503.0,1213.4" fill="#ffffff"/><polygon points="501.7,1206.4 496.8,1213.4 500.9,1214.7" fill="#bfc7cd"/><polygon points="498.2,1205.9 491.4,1208.0 493.6,1211.1" fill="#e8ecee"/><polygon points="497.0,1203.1 489.8,1201.6 490.2,1205.2" fill="#d3d9de"/><polygon points="497.5,1202.2 488.9,1200.0 488.8,1203.0" fill="#e8ecee"/><polygon points="499.3,1200.2 493.5,1193.7 491.2,1197.0" fill="#d3d9de"/><polygon points="500.0,1196.7 500.1,1191.1 496.8,1192.4" fill="#bfc7cd"/><polygon points="501.9,1197.1 502.7,1190.5 500.2,1190.7" fill="#c8cfd5"/><polygon points="504.6,1198.1 509.6,1193.1 506.7,1191.5" fill="#d3d9de"/><polygon points="505.0,1200.0 513.5,1195.0 511.4,1192.5" fill="#e0e5e8"/><polygon points="507.4,1200.1 514.2,1199.0 513.2,1196.7" fill="#e0e5e8"/><circle cx="507.6" cy="1204.3" r="0.8" fill="#9aa3ab"/><circle cx="503.0" cy="1211.2" r="0.7" fill="#9aa3ab"/><circle cx="494.6" cy="1198.0" r="0.6" fill="#9aa3ab"/><circle cx="505.3" cy="1212.6" r="0.7" fill="#9aa3ab"/><circle cx="490.0" cy="1200.5" r="0.5" fill="#9aa3ab"/><circle cx="501.1" cy="1211.4" r="0.5" fill="#9aa3ab"/><circle cx="502.9" cy="1194.4" r="0.7" fill="#9aa3ab"/><circle cx="507.3" cy="1214.7" r="0.5" fill="#9aa3ab"/><circle cx="507.4" cy="1192.5" r="0.9" fill="#9aa3ab"/><circle cx="502.7" cy="1202.2" r="3.0" fill="#fdfdfd"/>
<circle cx="501.2" cy="1232.2" r="14.6" fill="#f4f6f7" stroke="#c2c8cf" stroke-width="0.8"/><polygon points="505.3,1233.0 513.2,1236.6 513.9,1233.8" fill="#bfc7cd"/><polygon points="503.5,1233.7 510.0,1241.2 512.2,1238.3" fill="#c8cfd5"/><polygon points="503.3,1235.4 506.1,1244.0 509.1,1242.2" fill="#ffffff"/><polygon points="501.4,1235.6 499.3,1244.4 502.8,1244.5" fill="#e0e5e8"/><polygon points="500.0,1235.5 494.9,1241.9 498.2,1243.3" fill="#bfc7cd"/><polygon points="496.2,1235.9 490.5,1237.7 492.1,1240.0" fill="#d3d9de"/><polygon points="496.2,1234.2 488.2,1235.0 489.1,1237.9" fill="#ffffff"/><polygon points="496.1,1231.6 490.5,1228.2 489.7,1231.9" fill="#ffffff"/><polygon points="498.1,1230.4 492.6,1224.2 490.6,1227.1" fill="#e0e5e8"/><polygon points="499.9,1229.6 498.1,1220.5 494.9,1221.9" fill="#c8cfd5"/><polygon points="501.2,1229.5 503.7,1219.2 500.1,1219.0" fill="#e0e5e8"/><polygon points="503.7,1227.1 507.8,1224.2 505.0,1222.6" fill="#e8ecee"/><polygon points="505.4,1229.0 513.5,1226.8 511.1,1223.1" fill="#e8ecee"/><polygon points="504.6,1231.7 511.9,1232.7 511.7,1229.8" fill="#bfc7cd"/><circle cx="509.8" cy="1235.9" r="0.5" fill="#9aa3ab"/><circle cx="497.7" cy="1233.5" r="0.7" fill="#9aa3ab"/><circle cx="511.0" cy="1225.5" r="0.9" fill="#9aa3ab"/><circle cx="496.6" cy="1222.6" r="0.6" fill="#9aa3ab"/><circle cx="497.9" cy="1237.3" r="0.9" fill="#9aa3ab"/><circle cx="502.3" cy="1224.2" r="0.8" fill="#9aa3ab"/><circle cx="507.5" cy="1231.8" r="0.6" fill="#9aa3ab"/><circle cx="504.6" cy="1240.2" r="0.9" fill="#9aa3ab"/><circle cx="497.9" cy="1235.4" r="0.8" fill="#9aa3ab"/><circle cx="501.2" cy="1232.2" r="2.9" fill="#fdfdfd"/>
<circle cx="618.5" cy="1034.7" r="2.9" fill="#dfe3e8" stroke="#a9b0b9" stroke-width="0.9"/><circle cx="618.0" cy="1034.2" r="1.2" fill="#f6f7f9"/>
<circle cx="634.4" cy="1031.8" r="2.9" fill="#dfe3e8" stroke="#a9b0b9" stroke-width="0.9"/><circle cx="633.9" cy="1031.3" r="1.2" fill="#f6f7f9"/>
<circle cx="615.3" cy="1059.6" r="2.9" fill="#dfe3e8" stroke="#a9b0b9" stroke-width="0.9"/><circle cx="614.8" cy="1059.1" r="1.2" fill="#f6f7f9"/>
<circle cx="633.4" cy="1065.8" r="2.9" fill="#dfe3e8" stroke="#a9b0b9" stroke-width="0.9"/><circle cx="632.9" cy="1065.3" r="1.2" fill="#f6f7f9"/>
<circle cx="597.2" cy="1088.3" r="2.9" fill="#dfe3e8" stroke="#a9b0b9" stroke-width="0.9"/><circle cx="596.7" cy="1087.8" r="1.2" fill="#f6f7f9"/>
<circle cx="612.7" cy="1103.2" r="2.9" fill="#dfe3e8" stroke="#a9b0b9" stroke-width="0.9"/><circle cx="612.2" cy="1102.7" r="1.2" fill="#f6f7f9"/>
<circle cx="572.3" cy="1110.9" r="2.9" fill="#dfe3e8" stroke="#a9b0b9" stroke-width="0.9"/><circle cx="571.8" cy="1110.4" r="1.2" fill="#f6f7f9"/>
<circle cx="585.0" cy="1128.7" r="2.9" fill="#dfe3e8" stroke="#a9b0b9" stroke-width="0.9"/><circle cx="584.5" cy="1128.2" r="1.2" fill="#f6f7f9"/>
<circle cx="545.2" cy="1131.2" r="2.9" fill="#dfe3e8" stroke="#a9b0b9" stroke-width="0.9"/><circle cx="544.7" cy="1130.7" r="1.2" fill="#f6f7f9"/>
<circle cx="557.1" cy="1148.2" r="2.9" fill="#dfe3e8" stroke="#a9b0b9" stroke-width="0.9"/><circle cx="556.6" cy="1147.7" r="1.2" fill="#f6f7f9"/>
<circle cx="517.6" cy="1155.0" r="2.9" fill="#dfe3e8" stroke="#a9b0b9" stroke-width="0.9"/><circle cx="517.1" cy="1154.5" r="1.2" fill="#f6f7f9"/>
<circle cx="535.0" cy="1169.6" r="2.9" fill="#dfe3e8" stroke="#a9b0b9" stroke-width="0.9"/><circle cx="534.5" cy="1169.1" r="1.2" fill="#f6f7f9"/>
<circle cx="496.8" cy="1183.3" r="2.9" fill="#dfe3e8" stroke="#a9b0b9" stroke-width="0.9"/><circle cx="496.3" cy="1182.8" r="1.2" fill="#f6f7f9"/>
<circle cx="516.4" cy="1192.0" r="2.9" fill="#dfe3e8" stroke="#a9b0b9" stroke-width="0.9"/><circle cx="515.9" cy="1191.5" r="1.2" fill="#f6f7f9"/>
<circle cx="487.8" cy="1215.4" r="2.9" fill="#dfe3e8" stroke="#a9b0b9" stroke-width="0.9"/><circle cx="487.3" cy="1214.9" r="1.2" fill="#f6f7f9"/>
<circle cx="509.6" cy="1217.9" r="2.9" fill="#dfe3e8" stroke="#a9b0b9" stroke-width="0.9"/><circle cx="509.1" cy="1217.4" r="1.2" fill="#f6f7f9"/>
<circle cx="495.9" cy="1248.9" r="2.9" fill="#dfe3e8" stroke="#a9b0b9" stroke-width="0.9"/><circle cx="495.4" cy="1248.4" r="1.2" fill="#f6f7f9"/>
<circle cx="511.4" cy="1246.5" r="2.9" fill="#dfe3e8" stroke="#a9b0b9" stroke-width="0.9"/><circle cx="510.9" cy="1246.0" r="1.2" fill="#f6f7f9"/>
<circle cx="507.7" cy="1258.9" r="2.9" fill="#dfe3e8" stroke="#a9b0b9" stroke-width="0.9"/><circle cx="507.2" cy="1258.4" r="1.2" fill="#f6f7f9"/>
</g>
<g id="sideview">
<g clip-path="url(#cropTop)">
<ellipse cx="1391.8" cy="590.4" rx="8.6" ry="11.3" fill="none" stroke="#b3bac4" stroke-width="4.8"/><ellipse cx="1391.8" cy="590.4" rx="8.6" ry="11.3" fill="none" stroke="#e9edf1" stroke-width="2.3"/>
<ellipse cx="1391.6" cy="626.6" rx="8.6" ry="11.3" fill="none" stroke="#b3bac4" stroke-width="4.8"/><ellipse cx="1391.6" cy="626.6" rx="8.6" ry="11.3" fill="none" stroke="#e9edf1" stroke-width="2.3"/>
<ellipse cx="1391.4" cy="663.9" rx="8.6" ry="11.3" fill="none" stroke="#b3bac4" stroke-width="4.8"/><ellipse cx="1391.4" cy="663.9" rx="8.6" ry="11.3" fill="none" stroke="#e9edf1" stroke-width="2.3"/>
<ellipse cx="1391.0" cy="701.1" rx="8.6" ry="11.3" fill="none" stroke="#b3bac4" stroke-width="4.8"/><ellipse cx="1391.0" cy="701.1" rx="8.6" ry="11.3" fill="none" stroke="#e9edf1" stroke-width="2.3"/>
<ellipse cx="1390.4" cy="737.4" rx="8.6" ry="11.3" fill="none" stroke="#b3bac4" stroke-width="4.8"/><ellipse cx="1390.4" cy="737.4" rx="8.6" ry="11.3" fill="none" stroke="#e9edf1" stroke-width="2.3"/>
<ellipse cx="1389.8" cy="772.6" rx="8.6" ry="11.3" fill="none" stroke="#b3bac4" stroke-width="4.8"/><ellipse cx="1389.8" cy="772.6" rx="8.6" ry="11.3" fill="none" stroke="#e9edf1" stroke-width="2.3"/>
<ellipse cx="1389.3" cy="808.5" rx="8.6" ry="11.3" fill="none" stroke="#b3bac4" stroke-width="4.8"/><ellipse cx="1389.3" cy="808.5" rx="8.6" ry="11.3" fill="none" stroke="#e9edf1" stroke-width="2.3"/>
<ellipse cx="1388.8" cy="844.5" rx="8.6" ry="11.3" fill="none" stroke="#b3bac4" stroke-width="4.8"/><ellipse cx="1388.8" cy="844.5" rx="8.6" ry="11.3" fill="none" stroke="#e9edf1" stroke-width="2.3"/>
<ellipse cx="1388.3" cy="879.0" rx="8.6" ry="11.3" fill="none" stroke="#b3bac4" stroke-width="4.8"/><ellipse cx="1388.3" cy="879.0" rx="8.6" ry="11.3" fill="none" stroke="#e9edf1" stroke-width="2.3"/>
<line x1="1391.8" y1="597.9" x2="1391.6" y2="619.1" stroke="#b3bac4" stroke-width="5.2" stroke-linecap="round"/><line x1="1391.8" y1="597.9" x2="1391.6" y2="619.1" stroke="#eef1f4" stroke-width="2.6" stroke-linecap="round"/>
<line x1="1391.6" y1="634.1" x2="1391.4" y2="656.4" stroke="#b3bac4" stroke-width="5.2" stroke-linecap="round"/><line x1="1391.6" y1="634.1" x2="1391.4" y2="656.4" stroke="#eef1f4" stroke-width="2.6" stroke-linecap="round"/>
<line x1="1391.3" y1="671.4" x2="1391.1" y2="693.6" stroke="#b3bac4" stroke-width="5.2" stroke-linecap="round"/><line x1="1391.3" y1="671.4" x2="1391.1" y2="693.6" stroke="#eef1f4" stroke-width="2.6" stroke-linecap="round"/>
<line x1="1390.9" y1="708.6" x2="1390.5" y2="729.9" stroke="#b3bac4" stroke-width="5.2" stroke-linecap="round"/><line x1="1390.9" y1="708.6" x2="1390.5" y2="729.9" stroke="#eef1f4" stroke-width="2.6" stroke-linecap="round"/>
<line x1="1390.3" y1="744.9" x2="1389.9" y2="765.1" stroke="#b3bac4" stroke-width="5.2" stroke-linecap="round"/><line x1="1390.3" y1="744.9" x2="1389.9" y2="765.1" stroke="#eef1f4" stroke-width="2.6" stroke-linecap="round"/>
<line x1="1389.7" y1="780.1" x2="1389.4" y2="801.0" stroke="#b3bac4" stroke-width="5.2" stroke-linecap="round"/><line x1="1389.7" y1="780.1" x2="1389.4" y2="801.0" stroke="#eef1f4" stroke-width="2.6" stroke-linecap="round"/>
<line x1="1389.2" y1="816.0" x2="1388.9" y2="837.0" stroke="#b3bac4" stroke-width="5.2" stroke-linecap="round"/><line x1="1389.2" y1="816.0" x2="1388.9" y2="837.0" stroke="#eef1f4" stroke-width="2.6" stroke-linecap="round"/>
<line x1="1388.7" y1="852.0" x2="1388.4" y2="871.5" stroke="#b3bac4" stroke-width="5.2" stroke-linecap="round"/><line x1="1388.7" y1="852.0" x2="1388.4" y2="871.5" stroke="#eef1f4" stroke-width="2.6" stroke-linecap="round"/>
<line x1="1392.0" y1="560.0" x2="1391.8" y2="582.9" stroke="#b3bac4" stroke-width="5.2" stroke-linecap="round"/><line x1="1392.0" y1="560.0" x2="1391.8" y2="582.9" stroke="#eef1f4" stroke-width="2.6" stroke-linecap="round"/>
<line x1="1388.2" y1="886.5" x2="1388.0" y2="912.0" stroke="#b3bac4" stroke-width="5.2" stroke-linecap="round"/><line x1="1388.2" y1="886.5" x2="1388.0" y2="912.0" stroke="#eef1f4" stroke-width="2.6" stroke-linecap="round"/>
</g>
<ellipse cx="1385.5" cy="918" rx="6.5" ry="8" fill="#c9ced5" stroke="#a3aab3" stroke-width="1.5"/>
<line x1="1388" y1="915" x2="1389.5" y2="934" stroke="#b5bbc4" stroke-width="3" stroke-linecap="round"/>
<path d="M1372.9,887.1C1376.9,888.2 1390.0,889.1 1397.0,893.8C1404.0,898.5 1409.6,907.5 1414.6,915.4C1419.5,923.2 1424.1,932.1 1426.7,940.9C1429.3,949.6 1430.2,957.8 1430.0,967.9C1429.8,978.0 1428.4,991.4 1425.4,1001.5C1422.4,1011.6 1417.1,1020.3 1411.9,1028.4C1406.7,1036.5 1400.7,1043.3 1394.4,1050.0C1388.1,1056.7 1377.6,1065.7 1374.2,1068.8L1372.9,1052.6C1374.9,1050.8 1380.3,1047.1 1385.0,1041.9C1389.7,1036.8 1396.3,1029.6 1401.0,1021.7C1405.7,1013.9 1410.7,1003.8 1413.2,994.8C1415.7,985.8 1416.7,976.9 1416.0,967.9C1415.3,958.9 1412.8,949.6 1409.2,940.9C1405.6,932.1 1399.6,923.4 1394.4,915.4C1389.2,907.4 1380.7,896.7 1378.0,893.0Z" fill="#e6e9ed" stroke="#c0c5cd" stroke-width="1.1"/>
<path d="M1373.0,1058.0C1375.5,1055.8 1382.8,1050.7 1388.0,1045.0C1393.2,1039.3 1399.7,1032.2 1404.5,1024.0C1409.3,1015.8 1414.4,1005.4 1417.0,996.0C1419.6,986.6 1420.6,977.2 1420.0,967.9C1419.4,958.6 1417.0,949.0 1413.5,940.0C1410.0,931.0 1404.1,921.5 1399.0,914.0C1393.9,906.5 1385.7,898.2 1383.0,895.0" fill="none" stroke="#c3c8d0" stroke-width="3.5"/>
<path d="M1373,889 L1392,905 L1388,925 L1373,905Z" fill="#aeb4bd"/>
<path d="M1334.5,1120 L1334.5,887 Q1334.5,871.2 1348,871.2 L1366,871.2 Q1371.5,871.2 1371.5,878 L1371.5,1120Z" fill="#eceef2" stroke="#c5cad2" stroke-width="1.1"/>
<path d="M1336,1120 L1336,888 Q1336,873 1348,873 L1344,880 Q1342,884 1342,895 L1342,1120Z" fill="#b9bec7"/>
<rect x="1368.3" y="876" width="2.4" height="244" fill="#d2d6dc"/>
<path d="M1351.5,998.5 L1355,997 L1366,1001.5 L1356,1050 L1343,1050Z" fill="#eceef1" stroke="#cdd2d8" stroke-width="1"/>
<path d="M1341.6,1051.5 L1356,1051.5 L1356,1135 L1341.6,1135Z" fill="#f1f2f5" stroke="#d2d6dc" stroke-width="1"/>
<path d="M1336.0,1120.0C1335.0,1126.7 1331.7,1143.4 1330.0,1160.0C1328.3,1176.6 1327.3,1199.4 1326.0,1219.4C1324.7,1239.4 1322.9,1263.2 1322.0,1280.0C1321.1,1296.8 1320.7,1307.8 1320.6,1320.0C1320.5,1332.2 1320.6,1339.3 1321.4,1353.1C1322.2,1366.9 1323.6,1386.2 1325.5,1402.8C1327.4,1419.4 1329.8,1436.0 1333.0,1452.5C1336.2,1469.0 1340.7,1485.5 1344.6,1502.1C1348.5,1518.6 1352.9,1538.0 1356.2,1551.8C1359.5,1565.6 1361.7,1576.1 1364.4,1584.9C1367.2,1593.7 1369.7,1599.8 1372.7,1604.8C1375.7,1609.8 1380.9,1613.0 1382.6,1614.7L1405.8,1613.0C1404.7,1606.9 1401.7,1588.2 1399.2,1576.6C1396.7,1565.0 1394.2,1555.9 1390.9,1543.5C1387.6,1531.1 1383.2,1517.3 1379.3,1502.1C1375.4,1486.9 1371.0,1469.0 1367.7,1452.5C1364.4,1436.0 1361.7,1419.4 1359.5,1402.8C1357.3,1386.2 1355.9,1366.9 1354.5,1353.1C1353.1,1339.3 1351.6,1332.2 1351.2,1320.0C1350.8,1307.8 1351.2,1296.8 1352.0,1280.0C1352.8,1263.2 1354.0,1239.4 1355.7,1219.4C1357.4,1199.4 1359.4,1176.6 1362.0,1160.0C1364.6,1143.4 1369.9,1126.7 1371.5,1120.0Z" fill="#eff1f4" stroke="#cbd0d7" stroke-width="1.1"/>
<path d="M1336.0,1120.0C1335.0,1126.7 1331.7,1143.4 1330.0,1160.0C1328.3,1176.6 1327.3,1199.4 1326.0,1219.4C1324.7,1239.4 1322.9,1263.2 1322.0,1280.0C1321.1,1296.8 1320.7,1307.8 1320.6,1320.0C1320.5,1332.2 1320.6,1339.3 1321.4,1353.1C1322.2,1366.9 1323.6,1386.2 1325.5,1402.8C1327.4,1419.4 1329.8,1436.0 1333.0,1452.5C1336.2,1469.0 1340.7,1485.5 1344.6,1502.1C1348.5,1518.6 1352.9,1538.0 1356.2,1551.8C1359.5,1565.6 1361.7,1576.1 1364.4,1584.9C1367.2,1593.7 1369.7,1599.8 1372.7,1604.8C1375.7,1609.8 1380.9,1613.0 1382.6,1614.7L1389.1,1614.7C1387.4,1613.0 1382.2,1609.8 1379.2,1604.8C1376.2,1599.8 1373.7,1593.7 1370.9,1584.9C1368.2,1576.1 1366.0,1565.6 1362.7,1551.8C1359.4,1538.0 1355.0,1518.6 1351.1,1502.1C1347.2,1485.5 1342.7,1469.0 1339.5,1452.5C1336.3,1436.0 1333.9,1419.4 1332.0,1402.8C1330.1,1386.2 1328.7,1366.9 1327.9,1353.1C1327.1,1339.3 1327.0,1332.2 1327.1,1320.0C1327.2,1307.8 1327.6,1296.8 1328.5,1280.0C1329.4,1263.2 1331.2,1239.4 1332.5,1219.4C1333.8,1199.4 1334.8,1176.6 1336.5,1160.0C1338.2,1143.4 1341.5,1126.7 1342.5,1120.0Z" fill="#d9dde3"/>
<path d="M1366,1550 L1394,1548 L1406,1613 L1383,1615 Z" fill="#e6e9ed" stroke="#d0d4da" stroke-width="0.8"/>
<path d="M1346.0,1001.5C1345.2,1002.7 1342.9,1011.8 1341.0,1017.0C1339.1,1022.2 1336.8,1028.3 1334.7,1033.0C1332.6,1037.7 1330.5,1040.4 1328.5,1045.0C1326.5,1049.6 1324.7,1055.8 1323.0,1060.5C1321.3,1065.2 1319.6,1068.2 1318.3,1073.0C1317.0,1077.8 1315.9,1083.8 1315.2,1089.0C1314.5,1094.2 1314.2,1098.0 1314.0,1104.0C1313.8,1110.0 1314.0,1117.8 1314.3,1125.0C1314.6,1132.2 1315.3,1139.5 1316.0,1147.0C1316.7,1154.5 1317.4,1162.8 1318.3,1170.0C1319.2,1177.2 1320.0,1183.3 1321.3,1190.0C1322.6,1196.7 1324.0,1205.8 1326.0,1210.0C1328.0,1214.2 1331.0,1220.0 1333.0,1215.0C1335.0,1210.0 1336.8,1195.8 1338.0,1180.0C1339.2,1164.2 1339.3,1141.7 1340.0,1120.0C1340.7,1098.3 1341.0,1068.3 1342.0,1050.0C1343.0,1031.7 1345.3,1018.1 1346.0,1010.0C1346.7,1001.9 1346.8,1000.3 1346.0,1001.5Z" fill="#e3e6ea" stroke="#c9ced5" stroke-width="0.8"/>
<path d="M1337,1054 C1330,1075 1322,1100 1321,1125 C1321,1150 1324,1180 1330,1205" fill="none" stroke="#c3c8cf" stroke-width="1.4"/>
<path d="M1346.0,1001.5C1345.2,1004.1 1342.9,1011.8 1341.0,1017.0C1339.1,1022.2 1336.8,1028.3 1334.7,1033.0C1332.6,1037.7 1330.5,1040.4 1328.5,1045.0C1326.5,1049.6 1324.7,1055.8 1323.0,1060.5C1321.3,1065.2 1319.6,1068.2 1318.3,1073.0C1317.0,1077.8 1315.9,1083.8 1315.2,1089.0C1314.5,1094.2 1314.2,1098.0 1314.0,1104.0C1313.8,1110.0 1314.0,1117.8 1314.3,1125.0C1314.6,1132.2 1315.3,1139.5 1316.0,1147.0C1316.7,1154.5 1317.4,1162.8 1318.3,1170.0C1319.2,1177.2 1320.0,1183.3 1321.3,1190.0C1322.6,1196.7 1325.2,1206.7 1326.0,1210.0" fill="none" stroke="#c9ced5" stroke-width="9.5" stroke-linecap="round"/>
<path d="M1346.0,1001.5C1345.2,1004.1 1342.9,1011.8 1341.0,1017.0C1339.1,1022.2 1336.8,1028.3 1334.7,1033.0C1332.6,1037.7 1330.5,1040.4 1328.5,1045.0C1326.5,1049.6 1324.7,1055.8 1323.0,1060.5C1321.3,1065.2 1319.6,1068.2 1318.3,1073.0C1317.0,1077.8 1315.9,1083.8 1315.2,1089.0C1314.5,1094.2 1314.2,1098.0 1314.0,1104.0C1313.8,1110.0 1314.0,1117.8 1314.3,1125.0C1314.6,1132.2 1315.3,1139.5 1316.0,1147.0C1316.7,1154.5 1317.4,1162.8 1318.3,1170.0C1319.2,1177.2 1320.0,1183.3 1321.3,1190.0C1322.6,1196.7 1325.2,1206.7 1326.0,1210.0" fill="none" stroke="#e9ecef" stroke-width="7.5" stroke-linecap="round"/>
<path d="M1346.0,1001.5C1345.2,1004.1 1342.9,1011.8 1341.0,1017.0C1339.1,1022.2 1336.8,1028.3 1334.7,1033.0C1332.6,1037.7 1330.5,1040.4 1328.5,1045.0C1326.5,1049.6 1324.7,1055.8 1323.0,1060.5C1321.3,1065.2 1319.6,1068.2 1318.3,1073.0C1317.0,1077.8 1315.9,1083.8 1315.2,1089.0C1314.5,1094.2 1314.2,1098.0 1314.0,1104.0C1313.8,1110.0 1314.0,1117.8 1314.3,1125.0C1314.6,1132.2 1315.3,1139.5 1316.0,1147.0C1316.7,1154.5 1317.4,1162.8 1318.3,1170.0C1319.2,1177.2 1320.0,1183.3 1321.3,1190.0C1322.6,1196.7 1325.2,1206.7 1326.0,1210.0" fill="none" stroke="#fafbfc" stroke-width="5.6" stroke-linecap="round" stroke-dasharray="0.1 7.6"/>
<path d="M1337.0,1054.0C1336.7,1056.2 1335.9,1061.8 1335.3,1067.0C1334.7,1072.2 1334.2,1079.0 1333.5,1085.0C1332.8,1091.0 1332.1,1097.2 1331.0,1103.0C1329.9,1108.8 1328.4,1114.8 1327.0,1120.0C1325.6,1125.2 1323.2,1131.7 1322.5,1134.0" fill="none" stroke="#ced3d9" stroke-width="8.5" stroke-linecap="round"/>
<path d="M1337.0,1054.0C1336.7,1056.2 1335.9,1061.8 1335.3,1067.0C1334.7,1072.2 1334.2,1079.0 1333.5,1085.0C1332.8,1091.0 1332.1,1097.2 1331.0,1103.0C1329.9,1108.8 1328.4,1114.8 1327.0,1120.0C1325.6,1125.2 1323.2,1131.7 1322.5,1134.0" fill="none" stroke="#f4f6f7" stroke-width="5.4" stroke-linecap="round" stroke-dasharray="0.1 7.6"/>
<path d="M1353.5,1251.3 L1368.7,1254 L1368.7,1284 L1353.5,1284Z" fill="#e3e6ea" stroke="#c2c7cf" stroke-width="1"/>
<path d="M1352,1205 L1362,1212 L1366,1250 L1354,1248Z" fill="#d5d9df"/>
<path d="M1348,1140 C1354,1133 1366,1133 1376,1143 L1382,1156 L1372,1156 C1366,1148 1356,1146 1347,1150Z" fill="#8a909a"/>
<path d="M1351,1141 C1355,1137 1359,1136.5 1362,1137.5 L1362,1144.5 C1358,1143.5 1354,1144 1350,1146Z" fill="#5f656f"/>
<g id="bulbU">
<path d="M1347.1,1123.5C1348.2,1120.2 1350.0,1114.3 1353.0,1111.0C1356.0,1107.7 1360.7,1105.4 1365.2,1103.9C1369.7,1102.5 1375.2,1102.3 1380.0,1102.3C1384.8,1102.3 1389.9,1103.0 1394.2,1103.9C1398.5,1104.9 1402.9,1106.2 1406.0,1108.0C1409.1,1109.8 1410.9,1112.5 1413.0,1114.8C1415.1,1117.1 1417.3,1119.3 1418.5,1122.0C1419.7,1124.7 1420.0,1127.7 1420.3,1130.7C1420.6,1133.7 1420.8,1137.0 1420.5,1140.0C1420.2,1143.0 1419.8,1146.5 1418.8,1148.8C1417.8,1151.1 1416.2,1152.7 1414.5,1154.0C1412.8,1155.3 1411.3,1156.2 1408.7,1156.8C1406.1,1157.4 1402.0,1157.5 1399.0,1157.5C1396.0,1157.5 1393.0,1157.3 1390.6,1156.8C1388.2,1156.3 1386.3,1155.5 1384.5,1154.5C1382.7,1153.5 1381.7,1152.9 1379.7,1151.0C1377.7,1149.1 1375.2,1145.3 1372.5,1143.0C1369.8,1140.7 1367.2,1138.3 1363.8,1137.2C1360.4,1136.1 1355.1,1137.6 1352.2,1136.5C1349.3,1135.4 1347.2,1132.9 1346.4,1130.7C1345.6,1128.5 1346.0,1126.8 1347.1,1123.5Z" fill="#e4e6ea"/>
<g clip-path="url(#c_bulbU)">
<path d="M1347.1,1123.5C1348.2,1120.2 1350.0,1114.3 1353.0,1111.0C1356.0,1107.7 1360.7,1105.4 1365.2,1103.9C1369.7,1102.5 1375.2,1102.3 1380.0,1102.3C1384.8,1102.3 1389.9,1103.0 1394.2,1103.9C1398.5,1104.9 1402.9,1106.2 1406.0,1108.0C1409.1,1109.8 1410.9,1112.5 1413.0,1114.8C1415.1,1117.1 1417.3,1119.3 1418.5,1122.0C1419.7,1124.7 1420.0,1127.7 1420.3,1130.7C1420.6,1133.7 1420.8,1137.0 1420.5,1140.0C1420.2,1143.0 1419.8,1146.5 1418.8,1148.8C1417.8,1151.1 1416.2,1152.7 1414.5,1154.0C1412.8,1155.3 1411.3,1156.2 1408.7,1156.8C1406.1,1157.4 1402.0,1157.5 1399.0,1157.5C1396.0,1157.5 1393.0,1157.3 1390.6,1156.8C1388.2,1156.3 1386.3,1155.5 1384.5,1154.5C1382.7,1153.5 1381.7,1152.9 1379.7,1151.0C1377.7,1149.1 1375.2,1145.3 1372.5,1143.0C1369.8,1140.7 1367.2,1138.3 1363.8,1137.2C1360.4,1136.1 1355.1,1137.6 1352.2,1136.5C1349.3,1135.4 1347.2,1132.9 1346.4,1130.7C1345.6,1128.5 1346.0,1126.8 1347.1,1123.5Z" fill="none" stroke="#bdc2ca" stroke-width="11" filter="url(#b25)" transform="translate(0,0)"/>
<path d="M1383.3,1100 C1392,1110 1396,1118 1395.7,1123.5 C1398.5,1132 1398,1142 1390.6,1158 L1425,1160 L1425,1098Z" fill="url(#gWallU)"/><path d="M1383.3,1100 C1392,1110 1396,1118 1395.7,1123.5 C1398.5,1132 1398,1142 1390.6,1158" fill="none" stroke="#f4f5f7" stroke-width="2.2"/>
<path d="M1347.1,1123.5C1348.2,1120.2 1350.0,1114.3 1353.0,1111.0C1356.0,1107.7 1360.7,1105.4 1365.2,1103.9C1369.7,1102.5 1375.2,1102.3 1380.0,1102.3C1384.8,1102.3 1389.9,1103.0 1394.2,1103.9C1398.5,1104.9 1402.9,1106.2 1406.0,1108.0C1409.1,1109.8 1410.9,1112.5 1413.0,1114.8C1415.1,1117.1 1417.3,1119.3 1418.5,1122.0C1419.7,1124.7 1420.0,1127.7 1420.3,1130.7C1420.6,1133.7 1420.8,1137.0 1420.5,1140.0C1420.2,1143.0 1419.8,1146.5 1418.8,1148.8C1417.8,1151.1 1416.2,1152.7 1414.5,1154.0C1412.8,1155.3 1411.3,1156.2 1408.7,1156.8C1406.1,1157.4 1402.0,1157.5 1399.0,1157.5C1396.0,1157.5 1393.0,1157.3 1390.6,1156.8C1388.2,1156.3 1386.3,1155.5 1384.5,1154.5C1382.7,1153.5 1381.7,1152.9 1379.7,1151.0C1377.7,1149.1 1375.2,1145.3 1372.5,1143.0C1369.8,1140.7 1367.2,1138.3 1363.8,1137.2C1360.4,1136.1 1355.1,1137.6 1352.2,1136.5C1349.3,1135.4 1347.2,1132.9 1346.4,1130.7C1345.6,1128.5 1346.0,1126.8 1347.1,1123.5Z" fill="none" stroke="#eceef1" stroke-width="4" filter="url(#b05)"/>
<path d="M1347.1,1123.5C1348.2,1120.2 1350.0,1114.3 1353.0,1111.0C1356.0,1107.7 1360.7,1105.4 1365.2,1103.9C1369.7,1102.5 1375.2,1102.3 1380.0,1102.3C1384.8,1102.3 1389.9,1103.0 1394.2,1103.9C1398.5,1104.9 1402.9,1106.2 1406.0,1108.0C1409.1,1109.8 1410.9,1112.5 1413.0,1114.8C1415.1,1117.1 1417.3,1119.3 1418.5,1122.0C1419.7,1124.7 1420.0,1127.7 1420.3,1130.7C1420.6,1133.7 1420.8,1137.0 1420.5,1140.0C1420.2,1143.0 1419.8,1146.5 1418.8,1148.8C1417.8,1151.1 1416.2,1152.7 1414.5,1154.0C1412.8,1155.3 1411.3,1156.2 1408.7,1156.8C1406.1,1157.4 1402.0,1157.5 1399.0,1157.5C1396.0,1157.5 1393.0,1157.3 1390.6,1156.8C1388.2,1156.3 1386.3,1155.5 1384.5,1154.5C1382.7,1153.5 1381.7,1152.9 1379.7,1151.0C1377.7,1149.1 1375.2,1145.3 1372.5,1143.0C1369.8,1140.7 1367.2,1138.3 1363.8,1137.2C1360.4,1136.1 1355.1,1137.6 1352.2,1136.5C1349.3,1135.4 1347.2,1132.9 1346.4,1130.7C1345.6,1128.5 1346.0,1126.8 1347.1,1123.5Z" fill="none" stroke="#a6acb5" stroke-width="1.8" transform="translate(-0.7,-0.7)"/>
</g>
<path d="M1347.1,1123.5C1348.2,1120.2 1350.0,1114.3 1353.0,1111.0C1356.0,1107.7 1360.7,1105.4 1365.2,1103.9C1369.7,1102.5 1375.2,1102.3 1380.0,1102.3C1384.8,1102.3 1389.9,1103.0 1394.2,1103.9C1398.5,1104.9 1402.9,1106.2 1406.0,1108.0C1409.1,1109.8 1410.9,1112.5 1413.0,1114.8C1415.1,1117.1 1417.3,1119.3 1418.5,1122.0C1419.7,1124.7 1420.0,1127.7 1420.3,1130.7C1420.6,1133.7 1420.8,1137.0 1420.5,1140.0C1420.2,1143.0 1419.8,1146.5 1418.8,1148.8C1417.8,1151.1 1416.2,1152.7 1414.5,1154.0C1412.8,1155.3 1411.3,1156.2 1408.7,1156.8C1406.1,1157.4 1402.0,1157.5 1399.0,1157.5C1396.0,1157.5 1393.0,1157.3 1390.6,1156.8C1388.2,1156.3 1386.3,1155.5 1384.5,1154.5C1382.7,1153.5 1381.7,1152.9 1379.7,1151.0C1377.7,1149.1 1375.2,1145.3 1372.5,1143.0C1369.8,1140.7 1367.2,1138.3 1363.8,1137.2C1360.4,1136.1 1355.1,1137.6 1352.2,1136.5C1349.3,1135.4 1347.2,1132.9 1346.4,1130.7C1345.6,1128.5 1346.0,1126.8 1347.1,1123.5Z" fill="none" stroke="#b4bac3" stroke-width="1"/>
</g>
<g id="bulbL">
<path d="M1343.5,1152.5C1344.8,1149.7 1347.6,1147.7 1350.7,1146.7C1353.8,1145.7 1358.7,1145.7 1362.3,1146.7C1365.9,1147.7 1369.6,1150.3 1372.5,1152.5C1375.4,1154.7 1376.1,1158.0 1379.7,1159.7C1383.3,1161.4 1390.3,1160.8 1394.2,1162.6C1398.1,1164.4 1401.1,1167.7 1402.9,1170.6C1404.7,1173.5 1404.6,1177.0 1404.8,1180.0C1405.0,1183.0 1405.1,1185.6 1404.3,1188.7C1403.5,1191.8 1402.9,1196.6 1400.0,1198.8C1397.1,1201.0 1391.1,1201.5 1387.0,1201.7C1382.9,1202.0 1378.7,1201.8 1375.4,1200.3C1372.1,1198.8 1369.7,1196.2 1367.4,1193.0C1365.1,1189.8 1363.9,1184.3 1361.6,1181.4C1359.3,1178.5 1356.4,1176.9 1353.6,1175.7C1350.8,1174.5 1346.7,1176.3 1344.9,1174.2C1343.1,1172.1 1343.0,1166.9 1342.8,1163.3C1342.6,1159.7 1342.2,1155.3 1343.5,1152.5Z" fill="#e4e6ea"/>
<g clip-path="url(#c_bulbL)">
<path d="M1343.5,1152.5C1344.8,1149.7 1347.6,1147.7 1350.7,1146.7C1353.8,1145.7 1358.7,1145.7 1362.3,1146.7C1365.9,1147.7 1369.6,1150.3 1372.5,1152.5C1375.4,1154.7 1376.1,1158.0 1379.7,1159.7C1383.3,1161.4 1390.3,1160.8 1394.2,1162.6C1398.1,1164.4 1401.1,1167.7 1402.9,1170.6C1404.7,1173.5 1404.6,1177.0 1404.8,1180.0C1405.0,1183.0 1405.1,1185.6 1404.3,1188.7C1403.5,1191.8 1402.9,1196.6 1400.0,1198.8C1397.1,1201.0 1391.1,1201.5 1387.0,1201.7C1382.9,1202.0 1378.7,1201.8 1375.4,1200.3C1372.1,1198.8 1369.7,1196.2 1367.4,1193.0C1365.1,1189.8 1363.9,1184.3 1361.6,1181.4C1359.3,1178.5 1356.4,1176.9 1353.6,1175.7C1350.8,1174.5 1346.7,1176.3 1344.9,1174.2C1343.1,1172.1 1343.0,1166.9 1342.8,1163.3C1342.6,1159.7 1342.2,1155.3 1343.5,1152.5Z" fill="none" stroke="#bdc2ca" stroke-width="11" filter="url(#b25)" transform="translate(0,0)"/>
<path d="M1379.7,1157 C1383,1166 1383.8,1170 1383.3,1174.2 C1383.5,1182 1381,1192 1375.4,1203 L1410,1204 L1410,1158Z" fill="url(#gWallL)"/><path d="M1379.7,1157 C1383,1166 1383.8,1170 1383.3,1174.2 C1383.5,1182 1381,1192 1375.4,1203" fill="none" stroke="#f4f5f7" stroke-width="2.2"/>
<path d="M1343.5,1152.5C1344.8,1149.7 1347.6,1147.7 1350.7,1146.7C1353.8,1145.7 1358.7,1145.7 1362.3,1146.7C1365.9,1147.7 1369.6,1150.3 1372.5,1152.5C1375.4,1154.7 1376.1,1158.0 1379.7,1159.7C1383.3,1161.4 1390.3,1160.8 1394.2,1162.6C1398.1,1164.4 1401.1,1167.7 1402.9,1170.6C1404.7,1173.5 1404.6,1177.0 1404.8,1180.0C1405.0,1183.0 1405.1,1185.6 1404.3,1188.7C1403.5,1191.8 1402.9,1196.6 1400.0,1198.8C1397.1,1201.0 1391.1,1201.5 1387.0,1201.7C1382.9,1202.0 1378.7,1201.8 1375.4,1200.3C1372.1,1198.8 1369.7,1196.2 1367.4,1193.0C1365.1,1189.8 1363.9,1184.3 1361.6,1181.4C1359.3,1178.5 1356.4,1176.9 1353.6,1175.7C1350.8,1174.5 1346.7,1176.3 1344.9,1174.2C1343.1,1172.1 1343.0,1166.9 1342.8,1163.3C1342.6,1159.7 1342.2,1155.3 1343.5,1152.5Z" fill="none" stroke="#eceef1" stroke-width="4" filter="url(#b05)"/>
<path d="M1343.5,1152.5C1344.8,1149.7 1347.6,1147.7 1350.7,1146.7C1353.8,1145.7 1358.7,1145.7 1362.3,1146.7C1365.9,1147.7 1369.6,1150.3 1372.5,1152.5C1375.4,1154.7 1376.1,1158.0 1379.7,1159.7C1383.3,1161.4 1390.3,1160.8 1394.2,1162.6C1398.1,1164.4 1401.1,1167.7 1402.9,1170.6C1404.7,1173.5 1404.6,1177.0 1404.8,1180.0C1405.0,1183.0 1405.1,1185.6 1404.3,1188.7C1403.5,1191.8 1402.9,1196.6 1400.0,1198.8C1397.1,1201.0 1391.1,1201.5 1387.0,1201.7C1382.9,1202.0 1378.7,1201.8 1375.4,1200.3C1372.1,1198.8 1369.7,1196.2 1367.4,1193.0C1365.1,1189.8 1363.9,1184.3 1361.6,1181.4C1359.3,1178.5 1356.4,1176.9 1353.6,1175.7C1350.8,1174.5 1346.7,1176.3 1344.9,1174.2C1343.1,1172.1 1343.0,1166.9 1342.8,1163.3C1342.6,1159.7 1342.2,1155.3 1343.5,1152.5Z" fill="none" stroke="#a6acb5" stroke-width="1.8" transform="translate(-0.7,-0.7)"/>
</g>
<path d="M1343.5,1152.5C1344.8,1149.7 1347.6,1147.7 1350.7,1146.7C1353.8,1145.7 1358.7,1145.7 1362.3,1146.7C1365.9,1147.7 1369.6,1150.3 1372.5,1152.5C1375.4,1154.7 1376.1,1158.0 1379.7,1159.7C1383.3,1161.4 1390.3,1160.8 1394.2,1162.6C1398.1,1164.4 1401.1,1167.7 1402.9,1170.6C1404.7,1173.5 1404.6,1177.0 1404.8,1180.0C1405.0,1183.0 1405.1,1185.6 1404.3,1188.7C1403.5,1191.8 1402.9,1196.6 1400.0,1198.8C1397.1,1201.0 1391.1,1201.5 1387.0,1201.7C1382.9,1202.0 1378.7,1201.8 1375.4,1200.3C1372.1,1198.8 1369.7,1196.2 1367.4,1193.0C1365.1,1189.8 1363.9,1184.3 1361.6,1181.4C1359.3,1178.5 1356.4,1176.9 1353.6,1175.7C1350.8,1174.5 1346.7,1176.3 1344.9,1174.2C1343.1,1172.1 1343.0,1166.9 1342.8,1163.3C1342.6,1159.7 1342.2,1155.3 1343.5,1152.5Z" fill="none" stroke="#b4bac3" stroke-width="1"/>
</g>
</g>
<!--/JEWEL-->
<g id="lines">
<rect x="267" y="835" width="48" height="3" fill="#000"/>
<rect x="266" y="1612" width="48" height="3" fill="#000"/>
<rect x="285.2" y="858" width="4" height="736" fill="#000"/>
<polygon points="287.2,841.6 279.1,862.6 295.3,862.6" fill="#000"/>
<polygon points="287.2,1611.5 279.1,1590 295.3,1590" fill="#000"/>
<rect x="311" y="1629" width="3" height="38" fill="#000"/>
<rect x="810.1" y="1629" width="3" height="38" fill="#000"/>
<rect x="332" y="1648.8" width="462" height="4" fill="#000"/>
<polygon points="314.7,1650.8 335.8,1643 335.8,1658.6" fill="#000"/>
<polygon points="810,1650.8 790,1643 790,1658.6" fill="#000"/>
<rect x="615" y="1017" width="147" height="4" fill="#000"/>
<rect x="758" y="830" width="4" height="191" fill="#000"/>
<polygon points="760,813.9 752,834.4 768,834.4" fill="#000"/>
<rect x="1394" y="685.2" width="45" height="2.4" fill="#000"/>
<polygon points="1455,686.4 1434.8,679.6 1434.8,693.2" fill="#000"/>
<rect x="1168.3" y="1079" width="151.4" height="3" fill="#000"/>
<rect x="1168.3" y="1079" width="3.2" height="84" fill="#000"/>
<polygon points="1169.9,1180.9 1162,1160.5 1177.8,1160.5" fill="#000"/>
<rect x="1369.9" y="1623.7" width="3" height="43" fill="#000"/>
<rect x="1422" y="1623" width="3" height="43" fill="#000"/>
<rect x="1338.1" y="1642.5" width="14" height="3.4" fill="#000"/>
<polygon points="1369.7,1644.2 1348,1635.8 1348,1652.6" fill="#000"/>
<rect x="1442" y="1641.9" width="13.8" height="3.4" fill="#000"/>
<polygon points="1425.3,1643.6 1445.8,1635.2 1445.8,1652" fill="#000"/>
</g>
<g id="labels" opacity="0.999">
<text stroke="#000"><tspan id="w0" x="623.25" y="178.50" font-size="94" stroke-width="1.03" textLength="326.72" lengthAdjust="spacing">ROSEC</tspan> <tspan id="w1" x="990.95" y="178.50" font-size="94" stroke-width="1.03" textLength="388.01" lengthAdjust="spacing">JEWELS</tspan></text>
<text stroke="#000"><tspan id="w2" x="167.55" y="286.00" font-size="51" stroke-width="0.56" textLength="311.87" lengthAdjust="spacing">Lab-Grown</tspan> <tspan id="w3" x="506.15" y="286.00" font-size="51" stroke-width="0.56" textLength="297.76" lengthAdjust="spacing">Diamonds,</tspan> <tspan id="w4" x="820.80" y="286.00" font-size="51" stroke-width="0.56" textLength="187.03" lengthAdjust="spacing">Where</tspan> <tspan id="w5" x="1029.16" y="286.00" font-size="51" stroke-width="0.56" textLength="187.44" lengthAdjust="spacing">Beauty</tspan> <tspan id="w6" x="1242.52" y="286.00" font-size="51" stroke-width="0.56" textLength="164.31" lengthAdjust="spacing">Meets</tspan> <tspan id="w7" x="1428.39" y="286.00" font-size="51" stroke-width="0.56" textLength="402.62" lengthAdjust="spacing">Responsibility</tspan></text>
<text stroke="#000"><tspan id="w8" x="657.16" y="752.30" font-size="38.5" stroke-width="0.42" textLength="79.49" lengthAdjust="spacingAndGlyphs">1.50</tspan> <tspan id="w9" x="743.28" y="752.30" font-size="38.5" stroke-width="0.42" textLength="74.85" lengthAdjust="spacingAndGlyphs">MM</tspan> <tspan id="w10" x="829.57" y="752.30" font-size="38.5" stroke-width="0.42" textLength="122.26" lengthAdjust="spacingAndGlyphs">Round</tspan> <tspan id="w11" x="964.03" y="752.30" font-size="38.5" stroke-width="0.42" textLength="65.09" lengthAdjust="spacingAndGlyphs">Lab</tspan> <tspan id="w12" x="1042.95" y="752.30" font-size="38.5" stroke-width="0.42" textLength="133.07" lengthAdjust="spacingAndGlyphs">Grown</tspan> <tspan id="w13" x="1189.19" y="752.30" font-size="38.5" stroke-width="0.42" textLength="173.24" lengthAdjust="spacingAndGlyphs">Diamond</tspan></text>
<text stroke="#000"><tspan id="w14" x="663.27" y="804.20" font-size="38.5" stroke-width="0.42" textLength="42.79" lengthAdjust="spacingAndGlyphs">EF</tspan> <tspan id="w15" x="721.39" y="804.20" font-size="38.5" stroke-width="0.42" textLength="97.61" lengthAdjust="spacingAndGlyphs">Color</tspan> <tspan id="w16" x="832.57" y="804.20" font-size="38.5" stroke-width="0.42" textLength="50.32" lengthAdjust="spacingAndGlyphs">VS</tspan> <tspan id="w17" x="892.15" y="804.20" font-size="38.5" stroke-width="0.42" textLength="136.84" lengthAdjust="spacingAndGlyphs">Quality</tspan></text>
<text stroke="#000"><tspan id="w18" x="1454.94" y="703.20" font-size="43" stroke-width="0.47" textLength="422.08" lengthAdjust="spacingAndGlyphs">18-Inch-Cable-Chain</tspan></text>
<text stroke="#000"><tspan id="w19" x="77.84" y="1234.70" font-size="42.2" stroke-width="0.46" textLength="109.50" lengthAdjust="spacingAndGlyphs">31.80</tspan><tspan id="w20" x="186.92" y="1237.00" font-size="44.3" stroke-width="0.49" textLength="83.22" lengthAdjust="spacingAndGlyphs">MM</tspan></text>
<text stroke="#000"><tspan id="w21" x="476.68" y="1701.40" font-size="41.6" stroke-width="0.46" textLength="108.84" lengthAdjust="spacingAndGlyphs">20.70</tspan><tspan id="w22" x="585.88" y="1703.00" font-size="43.5" stroke-width="0.48" textLength="81.38" lengthAdjust="spacingAndGlyphs">MM</tspan></text>
<text stroke="#000"><tspan id="w23" x="1036.93" y="1220.60" font-size="43.6" stroke-width="0.48" textLength="257.28" lengthAdjust="spacingAndGlyphs">Pave-Setting</tspan></text>
<text stroke="#000"><tspan id="w24" x="1308.30" y="1710.40" font-size="42.2" stroke-width="0.46" textLength="61.13" lengthAdjust="spacingAndGlyphs">1.7</tspan> <tspan id="w25" x="1380.49" y="1710.40" font-size="42.2" stroke-width="0.46" textLength="25.72" lengthAdjust="spacingAndGlyphs">0</tspan><tspan id="w26" x="1405.95" y="1712.30" font-size="44.3" stroke-width="0.49" textLength="83.00" lengthAdjust="spacingAndGlyphs">MM</tspan></text>
<text stroke="#000"><tspan id="w27" x="575.70" y="1856.00" font-size="46.6" stroke-width="0.51" textLength="194.12" lengthAdjust="spacingAndGlyphs">Includes</tspan> <tspan id="w28" x="785.75" y="1856.00" font-size="46.6" stroke-width="0.51" textLength="230.12" lengthAdjust="spacingAndGlyphs">Certificate</tspan> <tspan id="w29" x="1030.60" y="1856.00" font-size="46.6" stroke-width="0.51" textLength="41.45" lengthAdjust="spacingAndGlyphs">of</tspan> <tspan id="w30" x="1089.00" y="1856.00" font-size="46.6" stroke-width="0.51" textLength="278.81" lengthAdjust="spacingAndGlyphs">Authenticity</tspan></text>
</g>
</svg>
</body></html>
